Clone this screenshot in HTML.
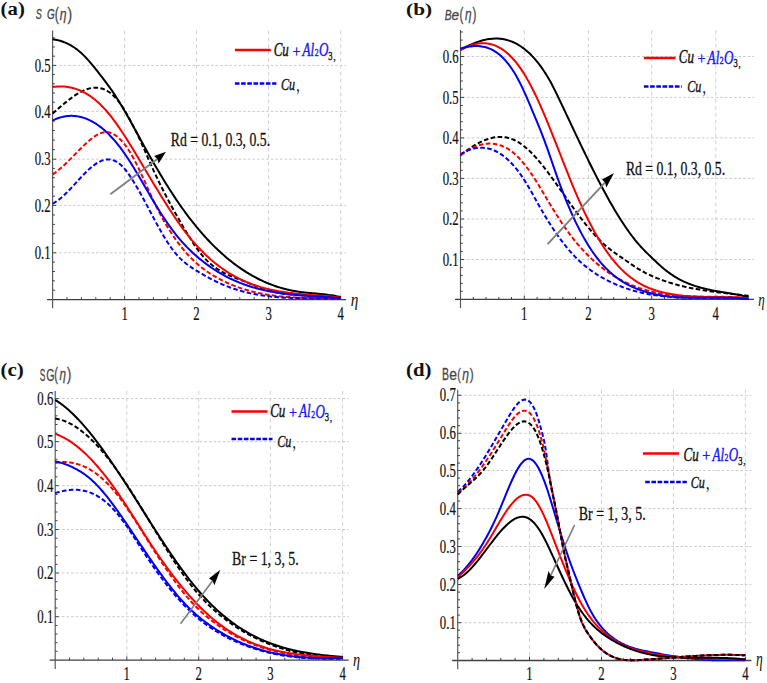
<!DOCTYPE html>
<html><head><meta charset="utf-8"><style>
html,body{margin:0;padding:0;background:#fff;overflow:hidden;}
svg{display:block;}
</style></head><body>
<svg width="767" height="683" viewBox="0 0 767 683">
<rect width="767" height="683" fill="#fff"/>
<line x1="54.6" y1="252.8" x2="346.0" y2="252.8" stroke="#cbcbcb" stroke-width="1" stroke-dasharray="2.6,2.0"/>
<line x1="54.6" y1="205.4" x2="346.0" y2="205.4" stroke="#cbcbcb" stroke-width="1" stroke-dasharray="2.6,2.0"/>
<line x1="54.6" y1="159.2" x2="346.0" y2="159.2" stroke="#cbcbcb" stroke-width="1" stroke-dasharray="2.6,2.0"/>
<line x1="54.6" y1="111.4" x2="346.0" y2="111.4" stroke="#cbcbcb" stroke-width="1" stroke-dasharray="2.6,2.0"/>
<line x1="54.6" y1="65.4" x2="346.0" y2="65.4" stroke="#cbcbcb" stroke-width="1" stroke-dasharray="2.6,2.0"/>
<line x1="124.6" y1="30.5" x2="124.6" y2="298.6" stroke="#d0d0d0" stroke-width="1" stroke-dasharray="3.7,3.2"/>
<line x1="196.5" y1="30.5" x2="196.5" y2="298.6" stroke="#d0d0d0" stroke-width="1" stroke-dasharray="3.7,3.2"/>
<line x1="268.6" y1="30.5" x2="268.6" y2="298.6" stroke="#d0d0d0" stroke-width="1" stroke-dasharray="3.7,3.2"/>
<line x1="340.7" y1="30.5" x2="340.7" y2="298.6" stroke="#d0d0d0" stroke-width="1" stroke-dasharray="3.7,3.2"/>
<line x1="47.1" y1="299.6" x2="346.0" y2="299.6" stroke="#404040" stroke-width="1.3"/>
<line x1="52.6" y1="30.5" x2="52.6" y2="308.3" stroke="#555" stroke-width="1.15"/>
<line x1="52.6" y1="290.2" x2="54.9" y2="290.2" stroke="#404040" stroke-width="1"/>
<line x1="52.6" y1="280.8" x2="54.9" y2="280.8" stroke="#404040" stroke-width="1"/>
<line x1="52.6" y1="271.5" x2="54.9" y2="271.5" stroke="#404040" stroke-width="1"/>
<line x1="52.6" y1="262.1" x2="54.9" y2="262.1" stroke="#404040" stroke-width="1"/>
<line x1="52.6" y1="252.8" x2="56.1" y2="252.8" stroke="#404040" stroke-width="1"/>
<line x1="52.6" y1="243.3" x2="54.9" y2="243.3" stroke="#404040" stroke-width="1"/>
<line x1="52.6" y1="233.8" x2="54.9" y2="233.8" stroke="#404040" stroke-width="1"/>
<line x1="52.6" y1="224.4" x2="54.9" y2="224.4" stroke="#404040" stroke-width="1"/>
<line x1="52.6" y1="214.9" x2="54.9" y2="214.9" stroke="#404040" stroke-width="1"/>
<line x1="52.6" y1="205.4" x2="56.1" y2="205.4" stroke="#404040" stroke-width="1"/>
<line x1="52.6" y1="196.2" x2="54.9" y2="196.2" stroke="#404040" stroke-width="1"/>
<line x1="52.6" y1="186.9" x2="54.9" y2="186.9" stroke="#404040" stroke-width="1"/>
<line x1="52.6" y1="177.7" x2="54.9" y2="177.7" stroke="#404040" stroke-width="1"/>
<line x1="52.6" y1="168.4" x2="54.9" y2="168.4" stroke="#404040" stroke-width="1"/>
<line x1="52.6" y1="159.2" x2="56.1" y2="159.2" stroke="#404040" stroke-width="1"/>
<line x1="52.6" y1="149.6" x2="54.9" y2="149.6" stroke="#404040" stroke-width="1"/>
<line x1="52.6" y1="140.1" x2="54.9" y2="140.1" stroke="#404040" stroke-width="1"/>
<line x1="52.6" y1="130.5" x2="54.9" y2="130.5" stroke="#404040" stroke-width="1"/>
<line x1="52.6" y1="121.0" x2="54.9" y2="121.0" stroke="#404040" stroke-width="1"/>
<line x1="52.6" y1="111.4" x2="56.1" y2="111.4" stroke="#404040" stroke-width="1"/>
<line x1="52.6" y1="102.2" x2="54.9" y2="102.2" stroke="#404040" stroke-width="1"/>
<line x1="52.6" y1="93.0" x2="54.9" y2="93.0" stroke="#404040" stroke-width="1"/>
<line x1="52.6" y1="83.8" x2="54.9" y2="83.8" stroke="#404040" stroke-width="1"/>
<line x1="52.6" y1="74.6" x2="54.9" y2="74.6" stroke="#404040" stroke-width="1"/>
<line x1="52.6" y1="65.4" x2="56.1" y2="65.4" stroke="#404040" stroke-width="1"/>
<line x1="52.6" y1="56.2" x2="54.9" y2="56.2" stroke="#404040" stroke-width="1"/>
<line x1="52.6" y1="47.0" x2="54.9" y2="47.0" stroke="#404040" stroke-width="1"/>
<line x1="52.6" y1="37.8" x2="54.9" y2="37.8" stroke="#404040" stroke-width="1"/>
<line x1="67.0" y1="299.5" x2="67.0" y2="297.2" stroke="#404040" stroke-width="1"/>
<line x1="81.4" y1="299.5" x2="81.4" y2="297.2" stroke="#404040" stroke-width="1"/>
<line x1="95.8" y1="299.5" x2="95.8" y2="297.2" stroke="#404040" stroke-width="1"/>
<line x1="110.2" y1="299.5" x2="110.2" y2="297.2" stroke="#404040" stroke-width="1"/>
<line x1="124.6" y1="299.5" x2="124.6" y2="296.0" stroke="#404040" stroke-width="1"/>
<line x1="139.0" y1="299.5" x2="139.0" y2="297.2" stroke="#404040" stroke-width="1"/>
<line x1="153.4" y1="299.5" x2="153.4" y2="297.2" stroke="#404040" stroke-width="1"/>
<line x1="167.7" y1="299.5" x2="167.7" y2="297.2" stroke="#404040" stroke-width="1"/>
<line x1="182.1" y1="299.5" x2="182.1" y2="297.2" stroke="#404040" stroke-width="1"/>
<line x1="196.5" y1="299.5" x2="196.5" y2="296.0" stroke="#404040" stroke-width="1"/>
<line x1="210.9" y1="299.5" x2="210.9" y2="297.2" stroke="#404040" stroke-width="1"/>
<line x1="225.3" y1="299.5" x2="225.3" y2="297.2" stroke="#404040" stroke-width="1"/>
<line x1="239.8" y1="299.5" x2="239.8" y2="297.2" stroke="#404040" stroke-width="1"/>
<line x1="254.2" y1="299.5" x2="254.2" y2="297.2" stroke="#404040" stroke-width="1"/>
<line x1="268.6" y1="299.5" x2="268.6" y2="296.0" stroke="#404040" stroke-width="1"/>
<line x1="283.0" y1="299.5" x2="283.0" y2="297.2" stroke="#404040" stroke-width="1"/>
<line x1="297.4" y1="299.5" x2="297.4" y2="297.2" stroke="#404040" stroke-width="1"/>
<line x1="311.9" y1="299.5" x2="311.9" y2="297.2" stroke="#404040" stroke-width="1"/>
<line x1="326.3" y1="299.5" x2="326.3" y2="297.2" stroke="#404040" stroke-width="1"/>
<line x1="340.7" y1="299.5" x2="340.7" y2="296.0" stroke="#404040" stroke-width="1"/>
<text transform="translate(50.70,258.96) scale(0.680,1)" style="font-family:'Liberation Serif',serif;font-size:18.80px" fill="#111" stroke="#111" stroke-width="0.2" text-anchor="end">0.1</text>
<text transform="translate(50.70,211.56) scale(0.680,1)" style="font-family:'Liberation Serif',serif;font-size:18.80px" fill="#111" stroke="#111" stroke-width="0.2" text-anchor="end">0.2</text>
<text transform="translate(50.70,165.36) scale(0.680,1)" style="font-family:'Liberation Serif',serif;font-size:18.80px" fill="#111" stroke="#111" stroke-width="0.2" text-anchor="end">0.3</text>
<text transform="translate(50.70,117.56) scale(0.680,1)" style="font-family:'Liberation Serif',serif;font-size:18.80px" fill="#111" stroke="#111" stroke-width="0.2" text-anchor="end">0.4</text>
<text transform="translate(50.70,71.56) scale(0.680,1)" style="font-family:'Liberation Serif',serif;font-size:18.80px" fill="#111" stroke="#111" stroke-width="0.2" text-anchor="end">0.5</text>
<text transform="translate(124.60,319.76) scale(0.680,1)" style="font-family:'Liberation Serif',serif;font-size:18.80px" fill="#111" stroke="#111" stroke-width="0.2" text-anchor="middle">1</text>
<text transform="translate(196.50,319.76) scale(0.680,1)" style="font-family:'Liberation Serif',serif;font-size:18.80px" fill="#111" stroke="#111" stroke-width="0.2" text-anchor="middle">2</text>
<text transform="translate(268.60,319.76) scale(0.680,1)" style="font-family:'Liberation Serif',serif;font-size:18.80px" fill="#111" stroke="#111" stroke-width="0.2" text-anchor="middle">3</text>
<text transform="translate(340.70,319.76) scale(0.680,1)" style="font-family:'Liberation Serif',serif;font-size:18.80px" fill="#111" stroke="#111" stroke-width="0.2" text-anchor="middle">4</text>
<text transform="translate(350.77,305.79) scale(0.779,1)" style="font-family:'Liberation Serif',serif;font-style:italic;font-size:19.56px" fill="#111">η</text>
<path d="M52.60 113.52 L54.09 112.24 L55.58 110.96 L57.08 109.67 L58.57 108.38 L60.06 107.10 L61.55 105.83 L63.05 104.57 L64.54 103.33 L66.03 102.11 L67.52 100.91 L69.01 99.74 L70.51 98.61 L72.00 97.50 L73.49 96.44 L74.98 95.42 L76.48 94.44 L77.97 93.52 L79.46 92.65 L80.95 91.84 L82.44 91.08 L83.94 90.40 L85.43 89.78 L86.92 89.23 L88.41 88.76 L89.91 88.37 L91.40 88.07 L92.89 87.85 L94.38 87.72 L95.87 87.68 L97.37 87.75 L98.86 87.91 L100.35 88.19 L101.84 88.57 L103.34 89.06 L104.83 89.68 L106.32 90.41 L107.81 91.26 L109.30 92.24 L110.80 93.36 L112.29 94.60 L113.78 95.98 L115.27 97.50 L116.77 99.17 L118.26 100.98 L119.75 102.94 L121.24 105.06 L122.73 107.32 L124.23 109.71 L125.72 112.21 L127.21 114.81 L128.70 117.49 L130.20 120.23 L131.69 123.03 L133.18 125.89 L134.67 128.80 L136.16 131.79 L137.66 134.85 L139.15 137.98 L140.64 141.19 L142.13 144.49 L143.63 147.87 L145.12 151.33 L146.61 154.81 L148.10 158.27 L149.59 161.69 L151.09 165.04 L152.58 168.34 L154.07 171.59 L155.56 174.78 L157.06 177.93 L158.55 181.03 L160.04 184.08 L161.53 187.09 L163.02 190.05 L164.52 192.98 L166.01 195.86 L167.50 198.70 L168.99 201.51 L170.49 204.29 L171.98 207.03 L173.47 209.73 L174.96 212.41 L176.45 215.06 L177.95 217.69 L179.44 220.28 L180.93 222.86 L182.42 225.41 L183.92 227.95 L185.41 230.46 L186.90 232.95 L188.39 235.42 L189.88 237.85 L191.38 240.23 L192.87 242.56 L194.36 244.83 L195.85 247.03 L197.35 249.15 L198.84 251.19 L200.33 253.12 L201.82 254.96 L203.32 256.70 L204.81 258.35 L206.30 259.91 L207.79 261.38 L209.28 262.77 L210.78 264.09 L212.27 265.33 L213.76 266.49 L215.25 267.60 L216.75 268.64 L218.24 269.62 L219.73 270.54 L221.22 271.42 L222.71 272.25 L224.21 273.03 L225.70 273.77 L227.19 274.48 L228.68 275.16 L230.18 275.81 L231.67 276.44 L233.16 277.04 L234.65 277.63 L236.14 278.21 L237.64 278.77 L239.13 279.34 L240.62 279.90 L242.11 280.46 L243.61 281.03 L245.10 281.61 L246.59 282.21 L248.08 282.80 L249.57 283.41 L251.07 284.01 L252.56 284.62 L254.05 285.22 L255.54 285.82 L257.04 286.41 L258.53 287.00 L260.02 287.57 L261.51 288.13 L263.00 288.67 L264.50 289.19 L265.99 289.69 L267.48 290.17 L268.97 290.62 L270.47 291.04 L271.96 291.44 L273.45 291.81 L274.94 292.15 L276.43 292.47 L277.93 292.77 L279.42 293.05 L280.91 293.31 L282.40 293.54 L283.90 293.76 L285.39 293.96 L286.88 294.15 L288.37 294.31 L289.86 294.47 L291.36 294.60 L292.85 294.73 L294.34 294.84 L295.83 294.95 L297.33 295.04 L298.82 295.13 L300.31 295.20 L301.80 295.27 L303.29 295.34 L304.79 295.40 L306.28 295.46 L307.77 295.51 L309.26 295.56 L310.76 295.61 L312.25 295.66 L313.74 295.71 L315.23 295.77 L316.72 295.83 L318.22 295.89 L319.71 295.95 L321.20 296.03 L322.69 296.11 L324.19 296.20 L325.68 296.29 L327.17 296.40 L328.66 296.52 L330.15 296.65 L331.65 296.80 L333.14 296.96 L334.63 297.13 L336.12 297.32 L337.62 297.53 L339.11 297.76 L340.60 298.00" fill="none" stroke="#000" stroke-width="2.0" stroke-dasharray="4.6,2.4"/>
<path d="M52.60 174.42 L54.09 173.42 L55.58 172.36 L57.08 171.23 L58.57 170.03 L60.06 168.78 L61.55 167.48 L63.05 166.14 L64.54 164.75 L66.03 163.33 L67.52 161.88 L69.01 160.40 L70.51 158.90 L72.00 157.39 L73.49 155.87 L74.98 154.35 L76.48 152.82 L77.97 151.30 L79.46 149.80 L80.95 148.31 L82.44 146.84 L83.94 145.40 L85.43 143.99 L86.92 142.61 L88.41 141.28 L89.91 140.00 L91.40 138.78 L92.89 137.64 L94.38 136.57 L95.87 135.59 L97.37 134.72 L98.86 133.95 L100.35 133.31 L101.84 132.80 L103.34 132.43 L104.83 132.21 L106.32 132.15 L107.81 132.26 L109.30 132.53 L110.80 132.97 L112.29 133.57 L113.78 134.33 L115.27 135.24 L116.77 136.31 L118.26 137.54 L119.75 138.91 L121.24 140.43 L122.73 142.10 L124.23 143.92 L125.72 145.87 L127.21 147.97 L128.70 150.20 L130.20 152.58 L131.69 155.09 L133.18 157.73 L134.67 160.50 L136.16 163.38 L137.66 166.38 L139.15 169.46 L140.64 172.62 L142.13 175.84 L143.63 179.11 L145.12 182.41 L146.61 185.73 L148.10 189.04 L149.59 192.35 L151.09 195.62 L152.58 198.85 L154.07 202.01 L155.56 205.11 L157.06 208.11 L158.55 211.04 L160.04 213.88 L161.53 216.65 L163.02 219.33 L164.52 221.95 L166.01 224.50 L167.50 226.97 L168.99 229.38 L170.49 231.73 L171.98 234.02 L173.47 236.25 L174.96 238.41 L176.45 240.52 L177.95 242.56 L179.44 244.55 L180.93 246.48 L182.42 248.35 L183.92 250.15 L185.41 251.91 L186.90 253.60 L188.39 255.23 L189.88 256.82 L191.38 258.34 L192.87 259.82 L194.36 261.24 L195.85 262.62 L197.35 263.95 L198.84 265.23 L200.33 266.47 L201.82 267.66 L203.32 268.81 L204.81 269.93 L206.30 271.00 L207.79 272.04 L209.28 273.04 L210.78 274.00 L212.27 274.94 L213.76 275.84 L215.25 276.72 L216.75 277.56 L218.24 278.38 L219.73 279.17 L221.22 279.94 L222.71 280.69 L224.21 281.42 L225.70 282.12 L227.19 282.81 L228.68 283.47 L230.18 284.12 L231.67 284.74 L233.16 285.35 L234.65 285.94 L236.14 286.50 L237.64 287.05 L239.13 287.59 L240.62 288.10 L242.11 288.60 L243.61 289.08 L245.10 289.54 L246.59 289.98 L248.08 290.41 L249.57 290.83 L251.07 291.23 L252.56 291.61 L254.05 291.98 L255.54 292.33 L257.04 292.67 L258.53 292.99 L260.02 293.31 L261.51 293.60 L263.00 293.89 L264.50 294.16 L265.99 294.42 L267.48 294.67 L268.97 294.90 L270.47 295.12 L271.96 295.34 L273.45 295.54 L274.94 295.73 L276.43 295.91 L277.93 296.08 L279.42 296.24 L280.91 296.39 L282.40 296.53 L283.90 296.67 L285.39 296.79 L286.88 296.91 L288.37 297.02 L289.86 297.12 L291.36 297.21 L292.85 297.30 L294.34 297.38 L295.83 297.46 L297.33 297.53 L298.82 297.59 L300.31 297.65 L301.80 297.70 L303.29 297.75 L304.79 297.79 L306.28 297.83 L307.77 297.86 L309.26 297.90 L310.76 297.93 L312.25 297.95 L313.74 297.97 L315.23 298.00 L316.72 298.01 L318.22 298.03 L319.71 298.05 L321.20 298.06 L322.69 298.08 L324.19 298.09 L325.68 298.11 L327.17 298.12 L328.66 298.14 L330.15 298.15 L331.65 298.17 L333.14 298.19 L334.63 298.21 L336.12 298.23 L337.62 298.25 L339.11 298.28 L340.60 298.31" fill="none" stroke="#f70000" stroke-width="2.0" stroke-dasharray="4.6,2.4"/>
<path d="M52.60 203.57 L54.09 202.79 L55.58 201.90 L57.08 200.92 L58.57 199.84 L60.06 198.67 L61.55 197.43 L63.05 196.11 L64.54 194.73 L66.03 193.30 L67.52 191.81 L69.01 190.28 L70.51 188.72 L72.00 187.13 L73.49 185.52 L74.98 183.89 L76.48 182.26 L77.97 180.63 L79.46 179.01 L80.95 177.40 L82.44 175.82 L83.94 174.27 L85.43 172.76 L86.92 171.29 L88.41 169.87 L89.91 168.51 L91.40 167.22 L92.89 166.01 L94.38 164.87 L95.87 163.82 L97.37 162.87 L98.86 162.02 L100.35 161.29 L101.84 160.66 L103.34 160.16 L104.83 159.79 L106.32 159.55 L107.81 159.44 L109.30 159.47 L110.80 159.65 L112.29 159.97 L113.78 160.45 L115.27 161.08 L116.77 161.88 L118.26 162.85 L119.75 163.98 L121.24 165.29 L122.73 166.78 L124.23 168.42 L125.72 170.22 L127.21 172.15 L128.70 174.21 L130.20 176.38 L131.69 178.65 L133.18 181.02 L134.67 183.46 L136.16 185.97 L137.66 188.54 L139.15 191.17 L140.64 193.84 L142.13 196.55 L143.63 199.29 L145.12 202.06 L146.61 204.85 L148.10 207.65 L149.59 210.46 L151.09 213.27 L152.58 216.07 L154.07 218.85 L155.56 221.62 L157.06 224.36 L158.55 227.06 L160.04 229.72 L161.53 232.34 L163.02 234.90 L164.52 237.40 L166.01 239.83 L167.50 242.19 L168.99 244.47 L170.49 246.66 L171.98 248.76 L173.47 250.75 L174.96 252.64 L176.45 254.41 L177.95 256.08 L179.44 257.65 L180.93 259.12 L182.42 260.51 L183.92 261.81 L185.41 263.05 L186.90 264.22 L188.39 265.33 L189.88 266.39 L191.38 267.41 L192.87 268.40 L194.36 269.35 L195.85 270.28 L197.35 271.19 L198.84 272.10 L200.33 272.99 L201.82 273.87 L203.32 274.73 L204.81 275.58 L206.30 276.42 L207.79 277.24 L209.28 278.05 L210.78 278.84 L212.27 279.62 L213.76 280.38 L215.25 281.12 L216.75 281.84 L218.24 282.54 L219.73 283.23 L221.22 283.90 L222.71 284.55 L224.21 285.17 L225.70 285.78 L227.19 286.37 L228.68 286.94 L230.18 287.49 L231.67 288.02 L233.16 288.54 L234.65 289.04 L236.14 289.52 L237.64 289.98 L239.13 290.43 L240.62 290.86 L242.11 291.27 L243.61 291.67 L245.10 292.05 L246.59 292.42 L248.08 292.77 L249.57 293.11 L251.07 293.43 L252.56 293.74 L254.05 294.04 L255.54 294.32 L257.04 294.59 L258.53 294.84 L260.02 295.09 L261.51 295.32 L263.00 295.54 L264.50 295.75 L265.99 295.95 L267.48 296.14 L268.97 296.31 L270.47 296.48 L271.96 296.64 L273.45 296.78 L274.94 296.92 L276.43 297.05 L277.93 297.17 L279.42 297.28 L280.91 297.38 L282.40 297.48 L283.90 297.57 L285.39 297.65 L286.88 297.72 L288.37 297.79 L289.86 297.85 L291.36 297.91 L292.85 297.96 L294.34 298.00 L295.83 298.04 L297.33 298.08 L298.82 298.11 L300.31 298.14 L301.80 298.16 L303.29 298.18 L304.79 298.20 L306.28 298.21 L307.77 298.23 L309.26 298.23 L310.76 298.24 L312.25 298.25 L313.74 298.25 L315.23 298.26 L316.72 298.26 L318.22 298.27 L319.71 298.27 L321.20 298.27 L322.69 298.28 L324.19 298.28 L325.68 298.29 L327.17 298.30 L328.66 298.31 L330.15 298.32 L331.65 298.33 L333.14 298.35 L334.63 298.37 L336.12 298.40 L337.62 298.42 L339.11 298.46 L340.60 298.49" fill="none" stroke="#0000f5" stroke-width="2.0" stroke-dasharray="4.6,2.4"/>
<path d="M52.60 39.19 L54.09 39.41 L55.58 39.68 L57.08 39.99 L58.57 40.36 L60.06 40.76 L61.55 41.23 L63.05 41.74 L64.54 42.31 L66.03 42.93 L67.52 43.62 L69.01 44.37 L70.51 45.17 L72.00 46.05 L73.49 46.99 L74.98 48.00 L76.48 49.08 L77.97 50.23 L79.46 51.46 L80.95 52.76 L82.44 54.14 L83.94 55.60 L85.43 57.12 L86.92 58.71 L88.41 60.36 L89.91 62.06 L91.40 63.81 L92.89 65.60 L94.38 67.43 L95.87 69.29 L97.37 71.19 L98.86 73.10 L100.35 75.03 L101.84 76.97 L103.34 78.91 L104.83 80.87 L106.32 82.85 L107.81 84.86 L109.30 86.91 L110.80 89.00 L112.29 91.14 L113.78 93.34 L115.27 95.61 L116.77 97.93 L118.26 100.30 L119.75 102.73 L121.24 105.20 L122.73 107.71 L124.23 110.26 L125.72 112.84 L127.21 115.46 L128.70 118.10 L130.20 120.76 L131.69 123.45 L133.18 126.15 L134.67 128.86 L136.16 131.59 L137.66 134.31 L139.15 137.04 L140.64 139.77 L142.13 142.48 L143.63 145.19 L145.12 147.89 L146.61 150.57 L148.10 153.23 L149.59 155.88 L151.09 158.51 L152.58 161.12 L154.07 163.71 L155.56 166.28 L157.06 168.83 L158.55 171.36 L160.04 173.87 L161.53 176.35 L163.02 178.82 L164.52 181.26 L166.01 183.67 L167.50 186.06 L168.99 188.43 L170.49 190.77 L171.98 193.08 L173.47 195.37 L174.96 197.62 L176.45 199.85 L177.95 202.05 L179.44 204.22 L180.93 206.36 L182.42 208.46 L183.92 210.54 L185.41 212.59 L186.90 214.60 L188.39 216.59 L189.88 218.54 L191.38 220.47 L192.87 222.36 L194.36 224.23 L195.85 226.07 L197.35 227.87 L198.84 229.65 L200.33 231.40 L201.82 233.12 L203.32 234.82 L204.81 236.48 L206.30 238.12 L207.79 239.72 L209.28 241.30 L210.78 242.86 L212.27 244.38 L213.76 245.88 L215.25 247.35 L216.75 248.80 L218.24 250.21 L219.73 251.60 L221.22 252.97 L222.71 254.31 L224.21 255.62 L225.70 256.91 L227.19 258.17 L228.68 259.40 L230.18 260.61 L231.67 261.80 L233.16 262.96 L234.65 264.09 L236.14 265.20 L237.64 266.29 L239.13 267.35 L240.62 268.39 L242.11 269.40 L243.61 270.39 L245.10 271.35 L246.59 272.30 L248.08 273.21 L249.57 274.11 L251.07 274.98 L252.56 275.83 L254.05 276.66 L255.54 277.46 L257.04 278.24 L258.53 279.00 L260.02 279.74 L261.51 280.46 L263.00 281.15 L264.50 281.82 L265.99 282.48 L267.48 283.11 L268.97 283.71 L270.47 284.30 L271.96 284.87 L273.45 285.42 L274.94 285.94 L276.43 286.45 L277.93 286.93 L279.42 287.40 L280.91 287.85 L282.40 288.27 L283.90 288.68 L285.39 289.07 L286.88 289.44 L288.37 289.79 L289.86 290.12 L291.36 290.43 L292.85 290.73 L294.34 291.00 L295.83 291.26 L297.33 291.50 L298.82 291.73 L300.31 291.93 L301.80 292.13 L303.29 292.31 L304.79 292.48 L306.28 292.64 L307.77 292.79 L309.26 292.94 L310.76 293.08 L312.25 293.22 L313.74 293.35 L315.23 293.49 L316.72 293.62 L318.22 293.76 L319.71 293.90 L321.20 294.05 L322.69 294.20 L324.19 294.36 L325.68 294.53 L327.17 294.72 L328.66 294.91 L330.15 295.12 L331.65 295.34 L333.14 295.58 L334.63 295.84 L336.12 296.12 L337.62 296.42 L339.11 296.74 L340.60 297.09" fill="none" stroke="#000" stroke-width="2.0"/>
<path d="M52.60 86.99 L54.09 86.79 L55.58 86.64 L57.08 86.52 L58.57 86.45 L60.06 86.42 L61.55 86.43 L63.05 86.49 L64.54 86.59 L66.03 86.74 L67.52 86.93 L69.01 87.17 L70.51 87.46 L72.00 87.80 L73.49 88.19 L74.98 88.63 L76.48 89.12 L77.97 89.66 L79.46 90.26 L80.95 90.90 L82.44 91.61 L83.94 92.36 L85.43 93.17 L86.92 94.04 L88.41 94.97 L89.91 95.95 L91.40 96.99 L92.89 98.09 L94.38 99.25 L95.87 100.47 L97.37 101.76 L98.86 103.10 L100.35 104.51 L101.84 105.98 L103.34 107.52 L104.83 109.12 L106.32 110.79 L107.81 112.52 L109.30 114.32 L110.80 116.18 L112.29 118.10 L113.78 120.07 L115.27 122.10 L116.77 124.18 L118.26 126.31 L119.75 128.48 L121.24 130.69 L122.73 132.94 L124.23 135.23 L125.72 137.55 L127.21 139.90 L128.70 142.27 L130.20 144.67 L131.69 147.09 L133.18 149.53 L134.67 151.99 L136.16 154.45 L137.66 156.93 L139.15 159.42 L140.64 161.91 L142.13 164.41 L143.63 166.91 L145.12 169.41 L146.61 171.92 L148.10 174.42 L149.59 176.92 L151.09 179.42 L152.58 181.91 L154.07 184.39 L155.56 186.87 L157.06 189.33 L158.55 191.79 L160.04 194.23 L161.53 196.65 L163.02 199.06 L164.52 201.45 L166.01 203.82 L167.50 206.16 L168.99 208.49 L170.49 210.79 L171.98 213.06 L173.47 215.31 L174.96 217.52 L176.45 219.71 L177.95 221.86 L179.44 223.98 L180.93 226.06 L182.42 228.10 L183.92 230.11 L185.41 232.08 L186.90 234.00 L188.39 235.88 L189.88 237.72 L191.38 239.52 L192.87 241.29 L194.36 243.01 L195.85 244.69 L197.35 246.34 L198.84 247.94 L200.33 249.51 L201.82 251.05 L203.32 252.54 L204.81 254.00 L206.30 255.43 L207.79 256.82 L209.28 258.17 L210.78 259.49 L212.27 260.78 L213.76 262.03 L215.25 263.25 L216.75 264.44 L218.24 265.59 L219.73 266.72 L221.22 267.81 L222.71 268.87 L224.21 269.90 L225.70 270.91 L227.19 271.88 L228.68 272.82 L230.18 273.74 L231.67 274.63 L233.16 275.49 L234.65 276.33 L236.14 277.13 L237.64 277.92 L239.13 278.67 L240.62 279.41 L242.11 280.12 L243.61 280.80 L245.10 281.46 L246.59 282.10 L248.08 282.72 L249.57 283.31 L251.07 283.88 L252.56 284.44 L254.05 284.97 L255.54 285.48 L257.04 285.97 L258.53 286.45 L260.02 286.90 L261.51 287.34 L263.00 287.76 L264.50 288.16 L265.99 288.55 L267.48 288.92 L268.97 289.27 L270.47 289.61 L271.96 289.94 L273.45 290.25 L274.94 290.55 L276.43 290.83 L277.93 291.11 L279.42 291.37 L280.91 291.61 L282.40 291.85 L283.90 292.08 L285.39 292.30 L286.88 292.50 L288.37 292.70 L289.86 292.89 L291.36 293.07 L292.85 293.24 L294.34 293.41 L295.83 293.57 L297.33 293.72 L298.82 293.87 L300.31 294.01 L301.80 294.15 L303.29 294.28 L304.79 294.41 L306.28 294.54 L307.77 294.66 L309.26 294.78 L310.76 294.90 L312.25 295.02 L313.74 295.14 L315.23 295.26 L316.72 295.37 L318.22 295.49 L319.71 295.61 L321.20 295.73 L322.69 295.85 L324.19 295.98 L325.68 296.10 L327.17 296.23 L328.66 296.37 L330.15 296.51 L331.65 296.65 L333.14 296.81 L334.63 296.96 L336.12 297.12 L337.62 297.29 L339.11 297.47 L340.60 297.66" fill="none" stroke="#f70000" stroke-width="2.0"/>
<path d="M52.60 120.51 L54.09 119.80 L55.58 119.15 L57.08 118.56 L58.57 118.02 L60.06 117.55 L61.55 117.13 L63.05 116.77 L64.54 116.47 L66.03 116.22 L67.52 116.04 L69.01 115.91 L70.51 115.84 L72.00 115.83 L73.49 115.88 L74.98 115.99 L76.48 116.15 L77.97 116.38 L79.46 116.66 L80.95 117.01 L82.44 117.41 L83.94 117.87 L85.43 118.39 L86.92 118.97 L88.41 119.61 L89.91 120.31 L91.40 121.07 L92.89 121.89 L94.38 122.77 L95.87 123.71 L97.37 124.71 L98.86 125.77 L100.35 126.89 L101.84 128.07 L103.34 129.31 L104.83 130.61 L106.32 131.98 L107.81 133.40 L109.30 134.88 L110.80 136.43 L112.29 138.03 L113.78 139.70 L115.27 141.42 L116.77 143.21 L118.26 145.06 L119.75 146.97 L121.24 148.94 L122.73 150.98 L124.23 153.07 L125.72 155.23 L127.21 157.45 L128.70 159.71 L130.20 162.03 L131.69 164.40 L133.18 166.80 L134.67 169.24 L136.16 171.71 L137.66 174.21 L139.15 176.73 L140.64 179.27 L142.13 181.82 L143.63 184.39 L145.12 186.95 L146.61 189.52 L148.10 192.08 L149.59 194.64 L151.09 197.18 L152.58 199.70 L154.07 202.20 L155.56 204.68 L157.06 207.12 L158.55 209.53 L160.04 211.91 L161.53 214.25 L163.02 216.55 L164.52 218.81 L166.01 221.03 L167.50 223.21 L168.99 225.35 L170.49 227.43 L171.98 229.47 L173.47 231.46 L174.96 233.40 L176.45 235.28 L177.95 237.11 L179.44 238.89 L180.93 240.63 L182.42 242.31 L183.92 243.95 L185.41 245.54 L186.90 247.09 L188.39 248.60 L189.88 250.07 L191.38 251.51 L192.87 252.90 L194.36 254.26 L195.85 255.58 L197.35 256.88 L198.84 258.14 L200.33 259.37 L201.82 260.57 L203.32 261.75 L204.81 262.89 L206.30 264.02 L207.79 265.11 L209.28 266.18 L210.78 267.22 L212.27 268.23 L213.76 269.22 L215.25 270.19 L216.75 271.13 L218.24 272.04 L219.73 272.94 L221.22 273.80 L222.71 274.65 L224.21 275.47 L225.70 276.27 L227.19 277.05 L228.68 277.80 L230.18 278.54 L231.67 279.25 L233.16 279.94 L234.65 280.61 L236.14 281.27 L237.64 281.90 L239.13 282.51 L240.62 283.10 L242.11 283.68 L243.61 284.23 L245.10 284.77 L246.59 285.29 L248.08 285.80 L249.57 286.28 L251.07 286.75 L252.56 287.21 L254.05 287.65 L255.54 288.07 L257.04 288.48 L258.53 288.87 L260.02 289.25 L261.51 289.61 L263.00 289.96 L264.50 290.30 L265.99 290.63 L267.48 290.94 L268.97 291.24 L270.47 291.52 L271.96 291.80 L273.45 292.07 L274.94 292.32 L276.43 292.56 L277.93 292.80 L279.42 293.02 L280.91 293.23 L282.40 293.44 L283.90 293.64 L285.39 293.82 L286.88 294.00 L288.37 294.18 L289.86 294.34 L291.36 294.50 L292.85 294.65 L294.34 294.80 L295.83 294.94 L297.33 295.07 L298.82 295.20 L300.31 295.33 L301.80 295.45 L303.29 295.56 L304.79 295.67 L306.28 295.78 L307.77 295.89 L309.26 295.99 L310.76 296.09 L312.25 296.19 L313.74 296.29 L315.23 296.38 L316.72 296.48 L318.22 296.57 L319.71 296.67 L321.20 296.76 L322.69 296.86 L324.19 296.95 L325.68 297.05 L327.17 297.15 L328.66 297.25 L330.15 297.35 L331.65 297.46 L333.14 297.57 L334.63 297.68 L336.12 297.79 L337.62 297.91 L339.11 298.04 L340.60 298.17" fill="none" stroke="#0000f5" stroke-width="2.0"/>
<line x1="462.5" y1="259.5" x2="754.0" y2="259.5" stroke="#cbcbcb" stroke-width="1" stroke-dasharray="2.6,2.0"/>
<line x1="462.5" y1="219.0" x2="754.0" y2="219.0" stroke="#cbcbcb" stroke-width="1" stroke-dasharray="2.6,2.0"/>
<line x1="462.5" y1="178.4" x2="754.0" y2="178.4" stroke="#cbcbcb" stroke-width="1" stroke-dasharray="2.6,2.0"/>
<line x1="462.5" y1="137.9" x2="754.0" y2="137.9" stroke="#cbcbcb" stroke-width="1" stroke-dasharray="2.6,2.0"/>
<line x1="462.5" y1="97.4" x2="754.0" y2="97.4" stroke="#cbcbcb" stroke-width="1" stroke-dasharray="2.6,2.0"/>
<line x1="462.5" y1="56.5" x2="754.0" y2="56.5" stroke="#cbcbcb" stroke-width="1" stroke-dasharray="2.6,2.0"/>
<line x1="524.3" y1="30.1" x2="524.3" y2="298.3" stroke="#d0d0d0" stroke-width="1" stroke-dasharray="3.7,3.2"/>
<line x1="588.4" y1="30.1" x2="588.4" y2="298.3" stroke="#d0d0d0" stroke-width="1" stroke-dasharray="3.7,3.2"/>
<line x1="651.7" y1="30.1" x2="651.7" y2="298.3" stroke="#d0d0d0" stroke-width="1" stroke-dasharray="3.7,3.2"/>
<line x1="715.8" y1="30.1" x2="715.8" y2="298.3" stroke="#d0d0d0" stroke-width="1" stroke-dasharray="3.7,3.2"/>
<line x1="455.0" y1="299.3" x2="754.0" y2="299.3" stroke="#404040" stroke-width="1.3"/>
<line x1="460.5" y1="30.1" x2="460.5" y2="308.0" stroke="#555" stroke-width="1.15"/>
<line x1="460.5" y1="291.3" x2="462.8" y2="291.3" stroke="#404040" stroke-width="1"/>
<line x1="460.5" y1="283.4" x2="462.8" y2="283.4" stroke="#404040" stroke-width="1"/>
<line x1="460.5" y1="275.4" x2="462.8" y2="275.4" stroke="#404040" stroke-width="1"/>
<line x1="460.5" y1="267.5" x2="462.8" y2="267.5" stroke="#404040" stroke-width="1"/>
<line x1="460.5" y1="259.5" x2="464.0" y2="259.5" stroke="#404040" stroke-width="1"/>
<line x1="460.5" y1="251.4" x2="462.8" y2="251.4" stroke="#404040" stroke-width="1"/>
<line x1="460.5" y1="243.3" x2="462.8" y2="243.3" stroke="#404040" stroke-width="1"/>
<line x1="460.5" y1="235.2" x2="462.8" y2="235.2" stroke="#404040" stroke-width="1"/>
<line x1="460.5" y1="227.1" x2="462.8" y2="227.1" stroke="#404040" stroke-width="1"/>
<line x1="460.5" y1="219.0" x2="464.0" y2="219.0" stroke="#404040" stroke-width="1"/>
<line x1="460.5" y1="210.9" x2="462.8" y2="210.9" stroke="#404040" stroke-width="1"/>
<line x1="460.5" y1="202.8" x2="462.8" y2="202.8" stroke="#404040" stroke-width="1"/>
<line x1="460.5" y1="194.6" x2="462.8" y2="194.6" stroke="#404040" stroke-width="1"/>
<line x1="460.5" y1="186.5" x2="462.8" y2="186.5" stroke="#404040" stroke-width="1"/>
<line x1="460.5" y1="178.4" x2="464.0" y2="178.4" stroke="#404040" stroke-width="1"/>
<line x1="460.5" y1="170.3" x2="462.8" y2="170.3" stroke="#404040" stroke-width="1"/>
<line x1="460.5" y1="162.2" x2="462.8" y2="162.2" stroke="#404040" stroke-width="1"/>
<line x1="460.5" y1="154.1" x2="462.8" y2="154.1" stroke="#404040" stroke-width="1"/>
<line x1="460.5" y1="146.0" x2="462.8" y2="146.0" stroke="#404040" stroke-width="1"/>
<line x1="460.5" y1="137.9" x2="464.0" y2="137.9" stroke="#404040" stroke-width="1"/>
<line x1="460.5" y1="129.8" x2="462.8" y2="129.8" stroke="#404040" stroke-width="1"/>
<line x1="460.5" y1="121.7" x2="462.8" y2="121.7" stroke="#404040" stroke-width="1"/>
<line x1="460.5" y1="113.6" x2="462.8" y2="113.6" stroke="#404040" stroke-width="1"/>
<line x1="460.5" y1="105.5" x2="462.8" y2="105.5" stroke="#404040" stroke-width="1"/>
<line x1="460.5" y1="97.4" x2="464.0" y2="97.4" stroke="#404040" stroke-width="1"/>
<line x1="460.5" y1="89.2" x2="462.8" y2="89.2" stroke="#404040" stroke-width="1"/>
<line x1="460.5" y1="81.0" x2="462.8" y2="81.0" stroke="#404040" stroke-width="1"/>
<line x1="460.5" y1="72.9" x2="462.8" y2="72.9" stroke="#404040" stroke-width="1"/>
<line x1="460.5" y1="64.7" x2="462.8" y2="64.7" stroke="#404040" stroke-width="1"/>
<line x1="460.5" y1="56.5" x2="464.0" y2="56.5" stroke="#404040" stroke-width="1"/>
<line x1="460.5" y1="48.3" x2="462.8" y2="48.3" stroke="#404040" stroke-width="1"/>
<line x1="460.5" y1="40.1" x2="462.8" y2="40.1" stroke="#404040" stroke-width="1"/>
<line x1="460.5" y1="32.0" x2="462.8" y2="32.0" stroke="#404040" stroke-width="1"/>
<line x1="473.3" y1="299.3" x2="473.3" y2="297.0" stroke="#404040" stroke-width="1"/>
<line x1="486.0" y1="299.3" x2="486.0" y2="297.0" stroke="#404040" stroke-width="1"/>
<line x1="498.8" y1="299.3" x2="498.8" y2="297.0" stroke="#404040" stroke-width="1"/>
<line x1="511.5" y1="299.3" x2="511.5" y2="297.0" stroke="#404040" stroke-width="1"/>
<line x1="524.3" y1="299.3" x2="524.3" y2="295.8" stroke="#404040" stroke-width="1"/>
<line x1="537.1" y1="299.3" x2="537.1" y2="297.0" stroke="#404040" stroke-width="1"/>
<line x1="549.9" y1="299.3" x2="549.9" y2="297.0" stroke="#404040" stroke-width="1"/>
<line x1="562.8" y1="299.3" x2="562.8" y2="297.0" stroke="#404040" stroke-width="1"/>
<line x1="575.6" y1="299.3" x2="575.6" y2="297.0" stroke="#404040" stroke-width="1"/>
<line x1="588.4" y1="299.3" x2="588.4" y2="295.8" stroke="#404040" stroke-width="1"/>
<line x1="601.1" y1="299.3" x2="601.1" y2="297.0" stroke="#404040" stroke-width="1"/>
<line x1="613.7" y1="299.3" x2="613.7" y2="297.0" stroke="#404040" stroke-width="1"/>
<line x1="626.4" y1="299.3" x2="626.4" y2="297.0" stroke="#404040" stroke-width="1"/>
<line x1="639.0" y1="299.3" x2="639.0" y2="297.0" stroke="#404040" stroke-width="1"/>
<line x1="651.7" y1="299.3" x2="651.7" y2="295.8" stroke="#404040" stroke-width="1"/>
<line x1="664.5" y1="299.3" x2="664.5" y2="297.0" stroke="#404040" stroke-width="1"/>
<line x1="677.3" y1="299.3" x2="677.3" y2="297.0" stroke="#404040" stroke-width="1"/>
<line x1="690.2" y1="299.3" x2="690.2" y2="297.0" stroke="#404040" stroke-width="1"/>
<line x1="703.0" y1="299.3" x2="703.0" y2="297.0" stroke="#404040" stroke-width="1"/>
<line x1="715.8" y1="299.3" x2="715.8" y2="295.8" stroke="#404040" stroke-width="1"/>
<line x1="728.6" y1="299.3" x2="728.6" y2="297.0" stroke="#404040" stroke-width="1"/>
<line x1="741.4" y1="299.3" x2="741.4" y2="297.0" stroke="#404040" stroke-width="1"/>
<text transform="translate(458.60,265.66) scale(0.680,1)" style="font-family:'Liberation Serif',serif;font-size:18.80px" fill="#111" stroke="#111" stroke-width="0.2" text-anchor="end">0.1</text>
<text transform="translate(458.60,225.16) scale(0.680,1)" style="font-family:'Liberation Serif',serif;font-size:18.80px" fill="#111" stroke="#111" stroke-width="0.2" text-anchor="end">0.2</text>
<text transform="translate(458.60,184.56) scale(0.680,1)" style="font-family:'Liberation Serif',serif;font-size:18.80px" fill="#111" stroke="#111" stroke-width="0.2" text-anchor="end">0.3</text>
<text transform="translate(458.60,144.06) scale(0.680,1)" style="font-family:'Liberation Serif',serif;font-size:18.80px" fill="#111" stroke="#111" stroke-width="0.2" text-anchor="end">0.4</text>
<text transform="translate(458.60,103.56) scale(0.680,1)" style="font-family:'Liberation Serif',serif;font-size:18.80px" fill="#111" stroke="#111" stroke-width="0.2" text-anchor="end">0.5</text>
<text transform="translate(458.60,62.66) scale(0.680,1)" style="font-family:'Liberation Serif',serif;font-size:18.80px" fill="#111" stroke="#111" stroke-width="0.2" text-anchor="end">0.6</text>
<text transform="translate(524.30,319.56) scale(0.680,1)" style="font-family:'Liberation Serif',serif;font-size:18.80px" fill="#111" stroke="#111" stroke-width="0.2" text-anchor="middle">1</text>
<text transform="translate(588.40,319.56) scale(0.680,1)" style="font-family:'Liberation Serif',serif;font-size:18.80px" fill="#111" stroke="#111" stroke-width="0.2" text-anchor="middle">2</text>
<text transform="translate(651.70,319.56) scale(0.680,1)" style="font-family:'Liberation Serif',serif;font-size:18.80px" fill="#111" stroke="#111" stroke-width="0.2" text-anchor="middle">3</text>
<text transform="translate(715.80,319.56) scale(0.680,1)" style="font-family:'Liberation Serif',serif;font-size:18.80px" fill="#111" stroke="#111" stroke-width="0.2" text-anchor="middle">4</text>
<text transform="translate(758.24,305.86) scale(0.664,1)" style="font-family:'Liberation Serif',serif;font-style:italic;font-size:19.71px" fill="#111">η</text>
<path d="M460.50 155.39 L461.99 154.19 L463.49 153.01 L464.98 151.87 L466.47 150.75 L467.96 149.67 L469.46 148.62 L470.95 147.61 L472.44 146.63 L473.93 145.69 L475.43 144.79 L476.92 143.93 L478.41 143.11 L479.91 142.34 L481.40 141.61 L482.89 140.93 L484.38 140.30 L485.88 139.72 L487.37 139.19 L488.86 138.71 L490.35 138.28 L491.85 137.91 L493.34 137.60 L494.83 137.35 L496.33 137.15 L497.82 137.02 L499.31 136.95 L500.80 136.94 L502.30 137.00 L503.79 137.12 L505.28 137.32 L506.78 137.58 L508.27 137.92 L509.76 138.33 L511.25 138.81 L512.75 139.37 L514.24 140.00 L515.73 140.71 L517.22 141.51 L518.72 142.38 L520.21 143.34 L521.70 144.37 L523.20 145.48 L524.69 146.66 L526.18 147.91 L527.67 149.23 L529.17 150.62 L530.66 152.06 L532.15 153.57 L533.64 155.13 L535.14 156.74 L536.63 158.41 L538.12 160.12 L539.62 161.88 L541.11 163.69 L542.60 165.53 L544.09 167.41 L545.59 169.32 L547.08 171.27 L548.57 173.25 L550.06 175.25 L551.56 177.28 L553.05 179.33 L554.54 181.40 L556.04 183.48 L557.53 185.58 L559.02 187.68 L560.51 189.80 L562.01 191.92 L563.50 194.04 L564.99 196.16 L566.48 198.28 L567.98 200.39 L569.47 202.49 L570.96 204.59 L572.46 206.67 L573.95 208.74 L575.44 210.79 L576.93 212.82 L578.43 214.83 L579.92 216.83 L581.41 218.79 L582.91 220.73 L584.40 222.65 L585.89 224.53 L587.38 226.38 L588.88 228.20 L590.37 229.98 L591.86 231.73 L593.35 233.43 L594.85 235.09 L596.34 236.71 L597.83 238.28 L599.33 239.80 L600.82 241.28 L602.31 242.70 L603.80 244.07 L605.30 245.39 L606.79 246.66 L608.28 247.89 L609.77 249.08 L611.27 250.23 L612.76 251.35 L614.25 252.45 L615.75 253.52 L617.24 254.58 L618.73 255.62 L620.22 256.64 L621.72 257.67 L623.21 258.68 L624.70 259.70 L626.19 260.73 L627.69 261.76 L629.18 262.80 L630.67 263.83 L632.17 264.86 L633.66 265.88 L635.15 266.88 L636.64 267.86 L638.14 268.81 L639.63 269.72 L641.12 270.60 L642.62 271.44 L644.11 272.24 L645.60 273.02 L647.09 273.76 L648.59 274.47 L650.08 275.17 L651.57 275.84 L653.06 276.49 L654.56 277.12 L656.05 277.74 L657.54 278.34 L659.04 278.93 L660.53 279.49 L662.02 280.05 L663.51 280.58 L665.01 281.10 L666.50 281.61 L667.99 282.10 L669.48 282.58 L670.98 283.04 L672.47 283.49 L673.96 283.93 L675.46 284.35 L676.95 284.76 L678.44 285.16 L679.93 285.54 L681.43 285.92 L682.92 286.28 L684.41 286.63 L685.90 286.97 L687.40 287.30 L688.89 287.62 L690.38 287.93 L691.88 288.23 L693.37 288.52 L694.86 288.81 L696.35 289.08 L697.85 289.35 L699.34 289.61 L700.83 289.86 L702.32 290.10 L703.82 290.34 L705.31 290.57 L706.80 290.79 L708.30 291.01 L709.79 291.22 L711.28 291.43 L712.77 291.63 L714.27 291.83 L715.76 292.02 L717.25 292.21 L718.75 292.40 L720.24 292.58 L721.73 292.76 L723.22 292.94 L724.72 293.11 L726.21 293.29 L727.70 293.46 L729.19 293.63 L730.69 293.80 L732.18 293.97 L733.67 294.13 L735.17 294.30 L736.66 294.47 L738.15 294.64 L739.64 294.81 L741.14 294.98 L742.63 295.15 L744.12 295.33 L745.61 295.50 L747.11 295.68 L748.60 295.86" fill="none" stroke="#000" stroke-width="2.0" stroke-dasharray="4.6,2.4"/>
<path d="M460.50 155.14 L461.99 154.07 L463.49 153.04 L464.98 152.06 L466.47 151.13 L467.96 150.24 L469.46 149.41 L470.95 148.62 L472.44 147.89 L473.93 147.21 L475.43 146.58 L476.92 146.01 L478.41 145.50 L479.91 145.05 L481.40 144.65 L482.89 144.32 L484.38 144.05 L485.88 143.84 L487.37 143.69 L488.86 143.61 L490.35 143.60 L491.85 143.66 L493.34 143.78 L494.83 143.98 L496.33 144.25 L497.82 144.59 L499.31 145.00 L500.80 145.50 L502.30 146.06 L503.79 146.71 L505.28 147.44 L506.78 148.24 L508.27 149.13 L509.76 150.10 L511.25 151.16 L512.75 152.30 L514.24 153.53 L515.73 154.85 L517.22 156.25 L518.72 157.75 L520.21 159.34 L521.70 161.01 L523.20 162.77 L524.69 164.61 L526.18 166.53 L527.67 168.52 L529.17 170.58 L530.66 172.72 L532.15 174.92 L533.64 177.18 L535.14 179.50 L536.63 181.88 L538.12 184.30 L539.62 186.76 L541.11 189.25 L542.60 191.76 L544.09 194.27 L545.59 196.79 L547.08 199.30 L548.57 201.79 L550.06 204.27 L551.56 206.73 L553.05 209.17 L554.54 211.58 L556.04 213.96 L557.53 216.32 L559.02 218.65 L560.51 220.94 L562.01 223.20 L563.50 225.42 L564.99 227.59 L566.48 229.71 L567.98 231.79 L569.47 233.82 L570.96 235.81 L572.46 237.75 L573.95 239.64 L575.44 241.49 L576.93 243.30 L578.43 245.06 L579.92 246.78 L581.41 248.46 L582.91 250.10 L584.40 251.70 L585.89 253.26 L587.38 254.78 L588.88 256.26 L590.37 257.70 L591.86 259.11 L593.35 260.48 L594.85 261.81 L596.34 263.11 L597.83 264.38 L599.33 265.61 L600.82 266.81 L602.31 267.98 L603.80 269.11 L605.30 270.22 L606.79 271.29 L608.28 272.33 L609.77 273.35 L611.27 274.33 L612.76 275.29 L614.25 276.22 L615.75 277.12 L617.24 278.00 L618.73 278.84 L620.22 279.67 L621.72 280.46 L623.21 281.23 L624.70 281.98 L626.19 282.70 L627.69 283.39 L629.18 284.07 L630.67 284.72 L632.17 285.34 L633.66 285.95 L635.15 286.53 L636.64 287.09 L638.14 287.63 L639.63 288.15 L641.12 288.64 L642.62 289.12 L644.11 289.58 L645.60 290.02 L647.09 290.44 L648.59 290.84 L650.08 291.22 L651.57 291.59 L653.06 291.94 L654.56 292.27 L656.05 292.59 L657.54 292.89 L659.04 293.18 L660.53 293.45 L662.02 293.70 L663.51 293.94 L665.01 294.17 L666.50 294.39 L667.99 294.59 L669.48 294.78 L670.98 294.96 L672.47 295.12 L673.96 295.28 L675.46 295.42 L676.95 295.56 L678.44 295.68 L679.93 295.79 L681.43 295.90 L682.92 296.00 L684.41 296.08 L685.90 296.16 L687.40 296.24 L688.89 296.30 L690.38 296.36 L691.88 296.42 L693.37 296.46 L694.86 296.51 L696.35 296.54 L697.85 296.58 L699.34 296.61 L700.83 296.63 L702.32 296.66 L703.82 296.67 L705.31 296.69 L706.80 296.71 L708.30 296.72 L709.79 296.73 L711.28 296.75 L712.77 296.76 L714.27 296.77 L715.76 296.78 L717.25 296.80 L718.75 296.81 L720.24 296.83 L721.73 296.85 L723.22 296.87 L724.72 296.89 L726.21 296.92 L727.70 296.95 L729.19 296.99 L730.69 297.03 L732.18 297.08 L733.67 297.13 L735.17 297.19 L736.66 297.26 L738.15 297.33 L739.64 297.41 L741.14 297.49 L742.63 297.59 L744.12 297.69 L745.61 297.80 L747.11 297.93 L748.60 298.06" fill="none" stroke="#f70000" stroke-width="2.0" stroke-dasharray="4.6,2.4"/>
<path d="M460.50 154.24 L461.99 153.35 L463.49 152.52 L464.98 151.75 L466.47 151.05 L467.96 150.42 L469.46 149.85 L470.95 149.34 L472.44 148.91 L473.93 148.54 L475.43 148.23 L476.92 148.00 L478.41 147.83 L479.91 147.74 L481.40 147.71 L482.89 147.76 L484.38 147.88 L485.88 148.07 L487.37 148.33 L488.86 148.67 L490.35 149.08 L491.85 149.57 L493.34 150.13 L494.83 150.77 L496.33 151.49 L497.82 152.28 L499.31 153.16 L500.80 154.11 L502.30 155.14 L503.79 156.25 L505.28 157.45 L506.78 158.72 L508.27 160.08 L509.76 161.52 L511.25 163.04 L512.75 164.65 L514.24 166.34 L515.73 168.12 L517.22 169.99 L518.72 171.94 L520.21 173.98 L521.70 176.11 L523.20 178.33 L524.69 180.64 L526.18 183.04 L527.67 185.51 L529.17 188.05 L530.66 190.64 L532.15 193.28 L533.64 195.94 L535.14 198.62 L536.63 201.31 L538.12 203.98 L539.62 206.64 L541.11 209.27 L542.60 211.85 L544.09 214.38 L545.59 216.88 L547.08 219.33 L548.57 221.73 L550.06 224.09 L551.56 226.41 L553.05 228.68 L554.54 230.91 L556.04 233.09 L557.53 235.23 L559.02 237.32 L560.51 239.37 L562.01 241.37 L563.50 243.32 L564.99 245.22 L566.48 247.08 L567.98 248.89 L569.47 250.64 L570.96 252.35 L572.46 254.00 L573.95 255.60 L575.44 257.15 L576.93 258.64 L578.43 260.09 L579.92 261.49 L581.41 262.84 L582.91 264.14 L584.40 265.40 L585.89 266.62 L587.38 267.80 L588.88 268.93 L590.37 270.04 L591.86 271.10 L593.35 272.13 L594.85 273.13 L596.34 274.09 L597.83 275.03 L599.33 275.93 L600.82 276.81 L602.31 277.67 L603.80 278.50 L605.30 279.31 L606.79 280.09 L608.28 280.86 L609.77 281.60 L611.27 282.32 L612.76 283.01 L614.25 283.69 L615.75 284.34 L617.24 284.98 L618.73 285.59 L620.22 286.19 L621.72 286.77 L623.21 287.32 L624.70 287.86 L626.19 288.38 L627.69 288.88 L629.18 289.36 L630.67 289.83 L632.17 290.28 L633.66 290.71 L635.15 291.12 L636.64 291.52 L638.14 291.90 L639.63 292.27 L641.12 292.62 L642.62 292.96 L644.11 293.28 L645.60 293.59 L647.09 293.88 L648.59 294.16 L650.08 294.43 L651.57 294.68 L653.06 294.92 L654.56 295.15 L656.05 295.37 L657.54 295.57 L659.04 295.77 L660.53 295.95 L662.02 296.12 L663.51 296.28 L665.01 296.43 L666.50 296.57 L667.99 296.71 L669.48 296.83 L670.98 296.94 L672.47 297.05 L673.96 297.15 L675.46 297.24 L676.95 297.32 L678.44 297.39 L679.93 297.46 L681.43 297.52 L682.92 297.58 L684.41 297.63 L685.90 297.67 L687.40 297.71 L688.89 297.75 L690.38 297.78 L691.88 297.80 L693.37 297.82 L694.86 297.84 L696.35 297.85 L697.85 297.87 L699.34 297.87 L700.83 297.88 L702.32 297.89 L703.82 297.89 L705.31 297.89 L706.80 297.89 L708.30 297.89 L709.79 297.89 L711.28 297.89 L712.77 297.89 L714.27 297.89 L715.76 297.89 L717.25 297.90 L718.75 297.90 L720.24 297.91 L721.73 297.92 L723.22 297.93 L724.72 297.94 L726.21 297.96 L727.70 297.98 L729.19 298.01 L730.69 298.04 L732.18 298.07 L733.67 298.11 L735.17 298.15 L736.66 298.20 L738.15 298.26 L739.64 298.32 L741.14 298.39 L742.63 298.46 L744.12 298.54 L745.61 298.63 L747.11 298.73 L748.60 298.84" fill="none" stroke="#0000f5" stroke-width="2.0" stroke-dasharray="4.6,2.4"/>
<path d="M460.50 49.84 L461.99 49.02 L463.49 48.22 L464.98 47.44 L466.47 46.68 L467.96 45.95 L469.46 45.25 L470.95 44.58 L472.44 43.93 L473.93 43.32 L475.43 42.73 L476.92 42.18 L478.41 41.67 L479.91 41.18 L481.40 40.74 L482.89 40.33 L484.38 39.96 L485.88 39.63 L487.37 39.35 L488.86 39.10 L490.35 38.90 L491.85 38.75 L493.34 38.64 L494.83 38.57 L496.33 38.56 L497.82 38.60 L499.31 38.69 L500.80 38.83 L502.30 39.02 L503.79 39.27 L505.28 39.58 L506.78 39.94 L508.27 40.36 L509.76 40.84 L511.25 41.38 L512.75 41.99 L514.24 42.66 L515.73 43.39 L517.22 44.19 L518.72 45.05 L520.21 45.99 L521.70 46.99 L523.20 48.07 L524.69 49.21 L526.18 50.43 L527.67 51.73 L529.17 53.10 L530.66 54.55 L532.15 56.07 L533.64 57.68 L535.14 59.36 L536.63 61.13 L538.12 62.98 L539.62 64.92 L541.11 66.95 L542.60 69.06 L544.09 71.28 L545.59 73.58 L547.08 75.99 L548.57 78.50 L550.06 81.11 L551.56 83.83 L553.05 86.66 L554.54 89.60 L556.04 92.64 L557.53 95.74 L559.02 98.86 L560.51 101.99 L562.01 105.14 L563.50 108.29 L564.99 111.44 L566.48 114.60 L567.98 117.77 L569.47 120.93 L570.96 124.09 L572.46 127.26 L573.95 130.41 L575.44 133.57 L576.93 136.72 L578.43 139.85 L579.92 142.98 L581.41 146.10 L582.91 149.21 L584.40 152.30 L585.89 155.37 L587.38 158.43 L588.88 161.47 L590.37 164.49 L591.86 167.49 L593.35 170.46 L594.85 173.41 L596.34 176.34 L597.83 179.25 L599.33 182.12 L600.82 184.97 L602.31 187.79 L603.80 190.58 L605.30 193.34 L606.79 196.06 L608.28 198.76 L609.77 201.41 L611.27 204.03 L612.76 206.61 L614.25 209.16 L615.75 211.66 L617.24 214.13 L618.73 216.55 L620.22 218.93 L621.72 221.26 L623.21 223.55 L624.70 225.79 L626.19 227.99 L627.69 230.13 L629.18 232.22 L630.67 234.27 L632.17 236.26 L633.66 238.19 L635.15 240.07 L636.64 241.90 L638.14 243.67 L639.63 245.37 L641.12 247.02 L642.62 248.62 L644.11 250.17 L645.60 251.68 L647.09 253.16 L648.59 254.61 L650.08 256.05 L651.57 257.48 L653.06 258.91 L654.56 260.34 L656.05 261.75 L657.54 263.15 L659.04 264.53 L660.53 265.88 L662.02 267.19 L663.51 268.46 L665.01 269.69 L666.50 270.88 L667.99 272.01 L669.48 273.10 L670.98 274.15 L672.47 275.15 L673.96 276.12 L675.46 277.04 L676.95 277.92 L678.44 278.77 L679.93 279.58 L681.43 280.35 L682.92 281.09 L684.41 281.79 L685.90 282.46 L687.40 283.11 L688.89 283.72 L690.38 284.30 L691.88 284.86 L693.37 285.38 L694.86 285.89 L696.35 286.37 L697.85 286.83 L699.34 287.26 L700.83 287.68 L702.32 288.07 L703.82 288.45 L705.31 288.81 L706.80 289.16 L708.30 289.49 L709.79 289.80 L711.28 290.11 L712.77 290.40 L714.27 290.68 L715.76 290.96 L717.25 291.22 L718.75 291.48 L720.24 291.74 L721.73 291.99 L723.22 292.24 L724.72 292.48 L726.21 292.73 L727.70 292.98 L729.19 293.22 L730.69 293.47 L732.18 293.73 L733.67 293.99 L735.17 294.25 L736.66 294.53 L738.15 294.81 L739.64 295.10 L741.14 295.41 L742.63 295.72 L744.12 296.05 L745.61 296.40 L747.11 296.75 L748.60 297.13" fill="none" stroke="#000" stroke-width="2.0"/>
<path d="M460.50 50.19 L461.99 49.34 L463.49 48.53 L464.98 47.78 L466.47 47.08 L467.96 46.43 L469.46 45.84 L470.95 45.30 L472.44 44.82 L473.93 44.40 L475.43 44.04 L476.92 43.74 L478.41 43.50 L479.91 43.33 L481.40 43.22 L482.89 43.18 L484.38 43.21 L485.88 43.30 L487.37 43.47 L488.86 43.71 L490.35 44.03 L491.85 44.42 L493.34 44.88 L494.83 45.43 L496.33 46.05 L497.82 46.75 L499.31 47.54 L500.80 48.41 L502.30 49.36 L503.79 50.41 L505.28 51.53 L506.78 52.75 L508.27 54.06 L509.76 55.46 L511.25 56.95 L512.75 58.54 L514.24 60.22 L515.73 62.00 L517.22 63.88 L518.72 65.86 L520.21 67.94 L521.70 70.12 L523.20 72.41 L524.69 74.81 L526.18 77.30 L527.67 79.90 L529.17 82.60 L530.66 85.39 L532.15 88.28 L533.64 91.25 L535.14 94.30 L536.63 97.43 L538.12 100.64 L539.62 103.91 L541.11 107.26 L542.60 110.67 L544.09 114.14 L545.59 117.67 L547.08 121.25 L548.57 124.88 L550.06 128.56 L551.56 132.27 L553.05 136.01 L554.54 139.78 L556.04 143.57 L557.53 147.38 L559.02 151.19 L560.51 155.01 L562.01 158.83 L563.50 162.64 L564.99 166.43 L566.48 170.21 L567.98 173.96 L569.47 177.68 L570.96 181.37 L572.46 185.01 L573.95 188.60 L575.44 192.14 L576.93 195.62 L578.43 199.04 L579.92 202.40 L581.41 205.69 L582.91 208.91 L584.40 212.07 L585.89 215.17 L587.38 218.20 L588.88 221.17 L590.37 224.07 L591.86 226.90 L593.35 229.67 L594.85 232.38 L596.34 235.02 L597.83 237.59 L599.33 240.10 L600.82 242.54 L602.31 244.91 L603.80 247.22 L605.30 249.45 L606.79 251.63 L608.28 253.73 L609.77 255.77 L611.27 257.74 L612.76 259.64 L614.25 261.47 L615.75 263.23 L617.24 264.93 L618.73 266.56 L620.22 268.13 L621.72 269.64 L623.21 271.09 L624.70 272.47 L626.19 273.80 L627.69 275.08 L629.18 276.29 L630.67 277.46 L632.17 278.57 L633.66 279.63 L635.15 280.65 L636.64 281.61 L638.14 282.53 L639.63 283.41 L641.12 284.24 L642.62 285.03 L644.11 285.78 L645.60 286.49 L647.09 287.17 L648.59 287.81 L650.08 288.41 L651.57 288.98 L653.06 289.52 L654.56 290.03 L656.05 290.52 L657.54 290.97 L659.04 291.40 L660.53 291.81 L662.02 292.19 L663.51 292.55 L665.01 292.90 L666.50 293.22 L667.99 293.53 L669.48 293.82 L670.98 294.09 L672.47 294.35 L673.96 294.59 L675.46 294.81 L676.95 295.02 L678.44 295.22 L679.93 295.40 L681.43 295.57 L682.92 295.72 L684.41 295.87 L685.90 296.00 L687.40 296.12 L688.89 296.23 L690.38 296.33 L691.88 296.42 L693.37 296.51 L694.86 296.58 L696.35 296.65 L697.85 296.70 L699.34 296.76 L700.83 296.80 L702.32 296.84 L703.82 296.88 L705.31 296.91 L706.80 296.93 L708.30 296.96 L709.79 296.97 L711.28 296.99 L712.77 297.01 L714.27 297.02 L715.76 297.03 L717.25 297.04 L718.75 297.06 L720.24 297.07 L721.73 297.08 L723.22 297.10 L724.72 297.12 L726.21 297.14 L727.70 297.16 L729.19 297.19 L730.69 297.23 L732.18 297.26 L733.67 297.31 L735.17 297.36 L736.66 297.41 L738.15 297.48 L739.64 297.55 L741.14 297.63 L742.63 297.71 L744.12 297.81 L745.61 297.92 L747.11 298.03 L748.60 298.16" fill="none" stroke="#f70000" stroke-width="2.0"/>
<path d="M460.50 48.52 L461.99 48.12 L463.49 47.75 L464.98 47.41 L466.47 47.10 L467.96 46.83 L469.46 46.59 L470.95 46.39 L472.44 46.23 L473.93 46.12 L475.43 46.07 L476.92 46.06 L478.41 46.11 L479.91 46.22 L481.40 46.40 L482.89 46.64 L484.38 46.95 L485.88 47.33 L487.37 47.79 L488.86 48.32 L490.35 48.94 L491.85 49.64 L493.34 50.43 L494.83 51.32 L496.33 52.29 L497.82 53.37 L499.31 54.54 L500.80 55.82 L502.30 57.21 L503.79 58.71 L505.28 60.32 L506.78 62.05 L508.27 63.90 L509.76 65.87 L511.25 67.97 L512.75 70.20 L514.24 72.56 L515.73 75.06 L517.22 77.69 L518.72 80.47 L520.21 83.38 L521.70 86.42 L523.20 89.58 L524.69 92.85 L526.18 96.21 L527.67 99.66 L529.17 103.18 L530.66 106.72 L532.15 110.27 L533.64 113.81 L535.14 117.36 L536.63 120.93 L538.12 124.54 L539.62 128.21 L541.11 131.95 L542.60 135.78 L544.09 139.72 L545.59 143.78 L547.08 147.93 L548.57 152.16 L550.06 156.44 L551.56 160.76 L553.05 165.08 L554.54 169.38 L556.04 173.65 L557.53 177.86 L559.02 181.99 L560.51 186.03 L562.01 189.98 L563.50 193.85 L564.99 197.63 L566.48 201.32 L567.98 204.91 L569.47 208.43 L570.96 211.85 L572.46 215.19 L573.95 218.44 L575.44 221.60 L576.93 224.67 L578.43 227.67 L579.92 230.57 L581.41 233.39 L582.91 236.13 L584.40 238.78 L585.89 241.35 L587.38 243.83 L588.88 246.24 L590.37 248.56 L591.86 250.80 L593.35 252.96 L594.85 255.04 L596.34 257.04 L597.83 258.97 L599.33 260.83 L600.82 262.62 L602.31 264.33 L603.80 265.98 L605.30 267.57 L606.79 269.09 L608.28 270.54 L609.77 271.94 L611.27 273.28 L612.76 274.56 L614.25 275.78 L615.75 276.95 L617.24 278.07 L618.73 279.14 L620.22 280.16 L621.72 281.14 L623.21 282.07 L624.70 282.95 L626.19 283.80 L627.69 284.60 L629.18 285.37 L630.67 286.10 L632.17 286.80 L633.66 287.46 L635.15 288.10 L636.64 288.70 L638.14 289.27 L639.63 289.83 L641.12 290.35 L642.62 290.85 L644.11 291.33 L645.60 291.79 L647.09 292.23 L648.59 292.64 L650.08 293.04 L651.57 293.41 L653.06 293.77 L654.56 294.10 L656.05 294.42 L657.54 294.72 L659.04 295.00 L660.53 295.26 L662.02 295.51 L663.51 295.74 L665.01 295.96 L666.50 296.16 L667.99 296.35 L669.48 296.52 L670.98 296.68 L672.47 296.82 L673.96 296.96 L675.46 297.08 L676.95 297.19 L678.44 297.29 L679.93 297.38 L681.43 297.45 L682.92 297.52 L684.41 297.58 L685.90 297.64 L687.40 297.68 L688.89 297.72 L690.38 297.75 L691.88 297.77 L693.37 297.79 L694.86 297.80 L696.35 297.81 L697.85 297.81 L699.34 297.81 L700.83 297.81 L702.32 297.81 L703.82 297.81 L705.31 297.81 L706.80 297.81 L708.30 297.81 L709.79 297.81 L711.28 297.81 L712.77 297.81 L714.27 297.81 L715.76 297.81 L717.25 297.81 L718.75 297.81 L720.24 297.81 L721.73 297.81 L723.22 297.81 L724.72 297.81 L726.21 297.81 L727.70 297.81 L729.19 297.81 L730.69 297.82 L732.18 297.87 L733.67 297.92 L735.17 297.98 L736.66 298.05 L738.15 298.13 L739.64 298.22 L741.14 298.32 L742.63 298.43 L744.12 298.56 L745.61 298.69 L747.11 298.84 L748.60 299.00" fill="none" stroke="#0000f5" stroke-width="2.0"/>
<line x1="57.2" y1="616.7" x2="348.7" y2="616.7" stroke="#cbcbcb" stroke-width="1" stroke-dasharray="2.6,2.0"/>
<line x1="57.2" y1="573.0" x2="348.7" y2="573.0" stroke="#cbcbcb" stroke-width="1" stroke-dasharray="2.6,2.0"/>
<line x1="57.2" y1="529.5" x2="348.7" y2="529.5" stroke="#cbcbcb" stroke-width="1" stroke-dasharray="2.6,2.0"/>
<line x1="57.2" y1="485.7" x2="348.7" y2="485.7" stroke="#cbcbcb" stroke-width="1" stroke-dasharray="2.6,2.0"/>
<line x1="57.2" y1="441.7" x2="348.7" y2="441.7" stroke="#cbcbcb" stroke-width="1" stroke-dasharray="2.6,2.0"/>
<line x1="57.2" y1="398.6" x2="348.7" y2="398.6" stroke="#cbcbcb" stroke-width="1" stroke-dasharray="2.6,2.0"/>
<line x1="126.8" y1="390.9" x2="126.8" y2="659.2" stroke="#d0d0d0" stroke-width="1" stroke-dasharray="3.7,3.2"/>
<line x1="198.7" y1="390.9" x2="198.7" y2="659.2" stroke="#d0d0d0" stroke-width="1" stroke-dasharray="3.7,3.2"/>
<line x1="270.4" y1="390.9" x2="270.4" y2="659.2" stroke="#d0d0d0" stroke-width="1" stroke-dasharray="3.7,3.2"/>
<line x1="342.6" y1="390.9" x2="342.6" y2="659.2" stroke="#d0d0d0" stroke-width="1" stroke-dasharray="3.7,3.2"/>
<line x1="49.7" y1="660.2" x2="348.7" y2="660.2" stroke="#404040" stroke-width="1.3"/>
<line x1="55.2" y1="390.9" x2="55.2" y2="668.9" stroke="#555" stroke-width="1.15"/>
<line x1="55.2" y1="651.3" x2="57.5" y2="651.3" stroke="#404040" stroke-width="1"/>
<line x1="55.2" y1="642.7" x2="57.5" y2="642.7" stroke="#404040" stroke-width="1"/>
<line x1="55.2" y1="634.0" x2="57.5" y2="634.0" stroke="#404040" stroke-width="1"/>
<line x1="55.2" y1="625.4" x2="57.5" y2="625.4" stroke="#404040" stroke-width="1"/>
<line x1="55.2" y1="616.7" x2="58.7" y2="616.7" stroke="#404040" stroke-width="1"/>
<line x1="55.2" y1="608.0" x2="57.5" y2="608.0" stroke="#404040" stroke-width="1"/>
<line x1="55.2" y1="599.2" x2="57.5" y2="599.2" stroke="#404040" stroke-width="1"/>
<line x1="55.2" y1="590.5" x2="57.5" y2="590.5" stroke="#404040" stroke-width="1"/>
<line x1="55.2" y1="581.7" x2="57.5" y2="581.7" stroke="#404040" stroke-width="1"/>
<line x1="55.2" y1="573.0" x2="58.7" y2="573.0" stroke="#404040" stroke-width="1"/>
<line x1="55.2" y1="564.3" x2="57.5" y2="564.3" stroke="#404040" stroke-width="1"/>
<line x1="55.2" y1="555.6" x2="57.5" y2="555.6" stroke="#404040" stroke-width="1"/>
<line x1="55.2" y1="546.9" x2="57.5" y2="546.9" stroke="#404040" stroke-width="1"/>
<line x1="55.2" y1="538.2" x2="57.5" y2="538.2" stroke="#404040" stroke-width="1"/>
<line x1="55.2" y1="529.5" x2="58.7" y2="529.5" stroke="#404040" stroke-width="1"/>
<line x1="55.2" y1="520.7" x2="57.5" y2="520.7" stroke="#404040" stroke-width="1"/>
<line x1="55.2" y1="512.0" x2="57.5" y2="512.0" stroke="#404040" stroke-width="1"/>
<line x1="55.2" y1="503.2" x2="57.5" y2="503.2" stroke="#404040" stroke-width="1"/>
<line x1="55.2" y1="494.5" x2="57.5" y2="494.5" stroke="#404040" stroke-width="1"/>
<line x1="55.2" y1="485.7" x2="58.7" y2="485.7" stroke="#404040" stroke-width="1"/>
<line x1="55.2" y1="476.9" x2="57.5" y2="476.9" stroke="#404040" stroke-width="1"/>
<line x1="55.2" y1="468.1" x2="57.5" y2="468.1" stroke="#404040" stroke-width="1"/>
<line x1="55.2" y1="459.3" x2="57.5" y2="459.3" stroke="#404040" stroke-width="1"/>
<line x1="55.2" y1="450.5" x2="57.5" y2="450.5" stroke="#404040" stroke-width="1"/>
<line x1="55.2" y1="441.7" x2="58.7" y2="441.7" stroke="#404040" stroke-width="1"/>
<line x1="55.2" y1="433.1" x2="57.5" y2="433.1" stroke="#404040" stroke-width="1"/>
<line x1="55.2" y1="424.5" x2="57.5" y2="424.5" stroke="#404040" stroke-width="1"/>
<line x1="55.2" y1="415.8" x2="57.5" y2="415.8" stroke="#404040" stroke-width="1"/>
<line x1="55.2" y1="407.2" x2="57.5" y2="407.2" stroke="#404040" stroke-width="1"/>
<line x1="55.2" y1="398.6" x2="58.7" y2="398.6" stroke="#404040" stroke-width="1"/>
<line x1="69.5" y1="660.0" x2="69.5" y2="657.7" stroke="#404040" stroke-width="1"/>
<line x1="83.8" y1="660.0" x2="83.8" y2="657.7" stroke="#404040" stroke-width="1"/>
<line x1="98.2" y1="660.0" x2="98.2" y2="657.7" stroke="#404040" stroke-width="1"/>
<line x1="112.5" y1="660.0" x2="112.5" y2="657.7" stroke="#404040" stroke-width="1"/>
<line x1="126.8" y1="660.0" x2="126.8" y2="656.5" stroke="#404040" stroke-width="1"/>
<line x1="141.2" y1="660.0" x2="141.2" y2="657.7" stroke="#404040" stroke-width="1"/>
<line x1="155.6" y1="660.0" x2="155.6" y2="657.7" stroke="#404040" stroke-width="1"/>
<line x1="169.9" y1="660.0" x2="169.9" y2="657.7" stroke="#404040" stroke-width="1"/>
<line x1="184.3" y1="660.0" x2="184.3" y2="657.7" stroke="#404040" stroke-width="1"/>
<line x1="198.7" y1="660.0" x2="198.7" y2="656.5" stroke="#404040" stroke-width="1"/>
<line x1="213.0" y1="660.0" x2="213.0" y2="657.7" stroke="#404040" stroke-width="1"/>
<line x1="227.4" y1="660.0" x2="227.4" y2="657.7" stroke="#404040" stroke-width="1"/>
<line x1="241.7" y1="660.0" x2="241.7" y2="657.7" stroke="#404040" stroke-width="1"/>
<line x1="256.1" y1="660.0" x2="256.1" y2="657.7" stroke="#404040" stroke-width="1"/>
<line x1="270.4" y1="660.0" x2="270.4" y2="656.5" stroke="#404040" stroke-width="1"/>
<line x1="284.8" y1="660.0" x2="284.8" y2="657.7" stroke="#404040" stroke-width="1"/>
<line x1="299.3" y1="660.0" x2="299.3" y2="657.7" stroke="#404040" stroke-width="1"/>
<line x1="313.7" y1="660.0" x2="313.7" y2="657.7" stroke="#404040" stroke-width="1"/>
<line x1="328.2" y1="660.0" x2="328.2" y2="657.7" stroke="#404040" stroke-width="1"/>
<line x1="342.6" y1="660.0" x2="342.6" y2="656.5" stroke="#404040" stroke-width="1"/>
<text transform="translate(53.30,622.86) scale(0.680,1)" style="font-family:'Liberation Serif',serif;font-size:18.80px" fill="#111" stroke="#111" stroke-width="0.2" text-anchor="end">0.1</text>
<text transform="translate(53.30,579.16) scale(0.680,1)" style="font-family:'Liberation Serif',serif;font-size:18.80px" fill="#111" stroke="#111" stroke-width="0.2" text-anchor="end">0.2</text>
<text transform="translate(53.30,535.66) scale(0.680,1)" style="font-family:'Liberation Serif',serif;font-size:18.80px" fill="#111" stroke="#111" stroke-width="0.2" text-anchor="end">0.3</text>
<text transform="translate(53.30,491.86) scale(0.680,1)" style="font-family:'Liberation Serif',serif;font-size:18.80px" fill="#111" stroke="#111" stroke-width="0.2" text-anchor="end">0.4</text>
<text transform="translate(53.30,447.86) scale(0.680,1)" style="font-family:'Liberation Serif',serif;font-size:18.80px" fill="#111" stroke="#111" stroke-width="0.2" text-anchor="end">0.5</text>
<text transform="translate(53.30,404.76) scale(0.680,1)" style="font-family:'Liberation Serif',serif;font-size:18.80px" fill="#111" stroke="#111" stroke-width="0.2" text-anchor="end">0.6</text>
<text transform="translate(126.80,680.26) scale(0.680,1)" style="font-family:'Liberation Serif',serif;font-size:18.80px" fill="#111" stroke="#111" stroke-width="0.2" text-anchor="middle">1</text>
<text transform="translate(198.70,680.26) scale(0.680,1)" style="font-family:'Liberation Serif',serif;font-size:18.80px" fill="#111" stroke="#111" stroke-width="0.2" text-anchor="middle">2</text>
<text transform="translate(270.40,680.26) scale(0.680,1)" style="font-family:'Liberation Serif',serif;font-size:18.80px" fill="#111" stroke="#111" stroke-width="0.2" text-anchor="middle">3</text>
<text transform="translate(342.60,680.26) scale(0.680,1)" style="font-family:'Liberation Serif',serif;font-size:18.80px" fill="#111" stroke="#111" stroke-width="0.2" text-anchor="middle">4</text>
<text transform="translate(353.00,665.99) scale(0.747,1)" style="font-family:'Liberation Serif',serif;font-style:italic;font-size:19.12px" fill="#111">η</text>
<path d="M55.20 418.55 L56.70 418.80 L58.19 419.11 L59.69 419.48 L61.19 419.91 L62.69 420.39 L64.18 420.93 L65.68 421.53 L67.18 422.18 L68.68 422.88 L70.17 423.63 L71.67 424.44 L73.17 425.30 L74.67 426.21 L76.16 427.17 L77.66 428.18 L79.16 429.24 L80.66 430.35 L82.15 431.51 L83.65 432.71 L85.15 433.96 L86.65 435.25 L88.14 436.59 L89.64 437.98 L91.14 439.41 L92.63 440.88 L94.13 442.39 L95.63 443.95 L97.13 445.54 L98.62 447.18 L100.12 448.86 L101.62 450.57 L103.12 452.33 L104.61 454.12 L106.11 455.95 L107.61 457.81 L109.11 459.71 L110.60 461.65 L112.10 463.62 L113.60 465.62 L115.10 467.66 L116.59 469.73 L118.09 471.83 L119.59 473.96 L121.09 476.13 L122.58 478.32 L124.08 480.54 L125.58 482.79 L127.08 485.07 L128.57 487.37 L130.07 489.69 L131.57 492.03 L133.06 494.40 L134.56 496.78 L136.06 499.18 L137.56 501.59 L139.05 504.02 L140.55 506.46 L142.05 508.91 L143.55 511.37 L145.04 513.84 L146.54 516.32 L148.04 518.79 L149.54 521.28 L151.03 523.76 L152.53 526.24 L154.03 528.72 L155.53 531.20 L157.02 533.67 L158.52 536.14 L160.02 538.60 L161.52 541.05 L163.01 543.49 L164.51 545.91 L166.01 548.33 L167.50 550.72 L169.00 553.10 L170.50 555.47 L172.00 557.81 L173.49 560.13 L174.99 562.42 L176.49 564.69 L177.99 566.94 L179.48 569.16 L180.98 571.35 L182.48 573.50 L183.98 575.63 L185.47 577.72 L186.97 579.78 L188.47 581.79 L189.97 583.77 L191.46 585.71 L192.96 587.61 L194.46 589.47 L195.96 591.28 L197.45 593.04 L198.95 594.77 L200.45 596.45 L201.94 598.09 L203.44 599.69 L204.94 601.25 L206.44 602.77 L207.93 604.26 L209.43 605.71 L210.93 607.13 L212.43 608.52 L213.92 609.88 L215.42 611.20 L216.92 612.50 L218.42 613.76 L219.91 615.01 L221.41 616.22 L222.91 617.41 L224.41 618.58 L225.90 619.73 L227.40 620.85 L228.90 621.95 L230.40 623.03 L231.89 624.08 L233.39 625.12 L234.89 626.13 L236.38 627.12 L237.88 628.09 L239.38 629.04 L240.88 629.97 L242.37 630.88 L243.87 631.77 L245.37 632.64 L246.87 633.49 L248.36 634.32 L249.86 635.14 L251.36 635.93 L252.86 636.71 L254.35 637.47 L255.85 638.22 L257.35 638.94 L258.85 639.65 L260.34 640.34 L261.84 641.02 L263.34 641.68 L264.84 642.32 L266.33 642.95 L267.83 643.56 L269.33 644.16 L270.82 644.73 L272.32 645.30 L273.82 645.85 L275.32 646.38 L276.81 646.90 L278.31 647.40 L279.81 647.89 L281.31 648.37 L282.80 648.83 L284.30 649.27 L285.80 649.70 L287.30 650.12 L288.79 650.53 L290.29 650.92 L291.79 651.30 L293.29 651.66 L294.78 652.01 L296.28 652.35 L297.78 652.68 L299.28 652.99 L300.77 653.29 L302.27 653.58 L303.77 653.86 L305.27 654.13 L306.76 654.38 L308.26 654.63 L309.76 654.86 L311.25 655.08 L312.75 655.29 L314.25 655.49 L315.75 655.68 L317.24 655.86 L318.74 656.03 L320.24 656.19 L321.74 656.33 L323.23 656.47 L324.73 656.60 L326.23 656.72 L327.73 656.83 L329.22 656.94 L330.72 657.03 L332.22 657.11 L333.72 657.19 L335.21 657.26 L336.71 657.32 L338.21 657.37 L339.71 657.41 L341.20 657.45 L342.70 657.48" fill="none" stroke="#000" stroke-width="2.0" stroke-dasharray="4.6,2.4"/>
<path d="M55.20 462.96 L56.70 462.70 L58.19 462.48 L59.69 462.31 L61.19 462.19 L62.69 462.12 L64.18 462.09 L65.68 462.12 L67.18 462.19 L68.68 462.32 L70.17 462.49 L71.67 462.71 L73.17 462.99 L74.67 463.31 L76.16 463.68 L77.66 464.11 L79.16 464.59 L80.66 465.12 L82.15 465.70 L83.65 466.33 L85.15 467.01 L86.65 467.75 L88.14 468.54 L89.64 469.38 L91.14 470.28 L92.63 471.23 L94.13 472.23 L95.63 473.29 L97.13 474.40 L98.62 475.56 L100.12 476.78 L101.62 478.06 L103.12 479.39 L104.61 480.78 L106.11 482.22 L107.61 483.72 L109.11 485.27 L110.60 486.88 L112.10 488.55 L113.60 490.27 L115.10 492.06 L116.59 493.90 L118.09 495.79 L119.59 497.74 L121.09 499.73 L122.58 501.78 L124.08 503.86 L125.58 505.99 L127.08 508.16 L128.57 510.36 L130.07 512.59 L131.57 514.86 L133.06 517.15 L134.56 519.46 L136.06 521.80 L137.56 524.15 L139.05 526.52 L140.55 528.90 L142.05 531.29 L143.55 533.69 L145.04 536.09 L146.54 538.49 L148.04 540.89 L149.54 543.28 L151.03 545.67 L152.53 548.05 L154.03 550.41 L155.53 552.76 L157.02 555.10 L158.52 557.42 L160.02 559.72 L161.52 562.00 L163.01 564.27 L164.51 566.51 L166.01 568.73 L167.50 570.93 L169.00 573.10 L170.50 575.25 L172.00 577.37 L173.49 579.47 L174.99 581.53 L176.49 583.57 L177.99 585.57 L179.48 587.54 L180.98 589.48 L182.48 591.38 L183.98 593.25 L185.47 595.08 L186.97 596.87 L188.47 598.63 L189.97 600.34 L191.46 602.01 L192.96 603.63 L194.46 605.22 L195.96 606.75 L197.45 608.25 L198.95 609.70 L200.45 611.11 L201.94 612.48 L203.44 613.81 L204.94 615.11 L206.44 616.38 L207.93 617.61 L209.43 618.82 L210.93 619.99 L212.43 621.15 L213.92 622.28 L215.42 623.38 L216.92 624.46 L218.42 625.52 L219.91 626.56 L221.41 627.58 L222.91 628.57 L224.41 629.54 L225.90 630.49 L227.40 631.42 L228.90 632.33 L230.40 633.22 L231.89 634.08 L233.39 634.93 L234.89 635.75 L236.38 636.56 L237.88 637.35 L239.38 638.12 L240.88 638.86 L242.37 639.59 L243.87 640.30 L245.37 641.00 L246.87 641.67 L248.36 642.33 L249.86 642.97 L251.36 643.59 L252.86 644.19 L254.35 644.78 L255.85 645.35 L257.35 645.90 L258.85 646.44 L260.34 646.96 L261.84 647.47 L263.34 647.96 L264.84 648.44 L266.33 648.90 L267.83 649.34 L269.33 649.77 L270.82 650.19 L272.32 650.59 L273.82 650.98 L275.32 651.36 L276.81 651.72 L278.31 652.07 L279.81 652.40 L281.31 652.73 L282.80 653.04 L284.30 653.33 L285.80 653.62 L287.30 653.90 L288.79 654.16 L290.29 654.41 L291.79 654.65 L293.29 654.88 L294.78 655.10 L296.28 655.31 L297.78 655.51 L299.28 655.70 L300.77 655.88 L302.27 656.05 L303.77 656.21 L305.27 656.37 L306.76 656.51 L308.26 656.65 L309.76 656.77 L311.25 656.89 L312.75 657.00 L314.25 657.11 L315.75 657.21 L317.24 657.30 L318.74 657.38 L320.24 657.46 L321.74 657.53 L323.23 657.60 L324.73 657.66 L326.23 657.71 L327.73 657.76 L329.22 657.80 L330.72 657.84 L332.22 657.87 L333.72 657.90 L335.21 657.93 L336.71 657.95 L338.21 657.97 L339.71 657.99 L341.20 658.00 L342.70 658.01" fill="none" stroke="#f70000" stroke-width="2.0" stroke-dasharray="4.6,2.4"/>
<path d="M55.20 493.11 L56.70 492.65 L58.19 492.22 L59.69 491.83 L61.19 491.46 L62.69 491.12 L64.18 490.82 L65.68 490.55 L67.18 490.32 L68.68 490.13 L70.17 489.98 L71.67 489.87 L73.17 489.80 L74.67 489.78 L76.16 489.80 L77.66 489.87 L79.16 489.99 L80.66 490.17 L82.15 490.39 L83.65 490.67 L85.15 491.00 L86.65 491.39 L88.14 491.85 L89.64 492.36 L91.14 492.93 L92.63 493.57 L94.13 494.27 L95.63 495.03 L97.13 495.87 L98.62 496.77 L100.12 497.73 L101.62 498.76 L103.12 499.87 L104.61 501.03 L106.11 502.27 L107.61 503.58 L109.11 504.95 L110.60 506.39 L112.10 507.91 L113.60 509.49 L115.10 511.15 L116.59 512.87 L118.09 514.67 L119.59 516.54 L121.09 518.47 L122.58 520.47 L124.08 522.52 L125.58 524.63 L127.08 526.78 L128.57 528.97 L130.07 531.20 L131.57 533.46 L133.06 535.74 L134.56 538.05 L136.06 540.36 L137.56 542.69 L139.05 545.03 L140.55 547.36 L142.05 549.69 L143.55 552.00 L145.04 554.30 L146.54 556.58 L148.04 558.83 L149.54 561.06 L151.03 563.27 L152.53 565.46 L154.03 567.61 L155.53 569.75 L157.02 571.86 L158.52 573.94 L160.02 575.99 L161.52 578.02 L163.01 580.02 L164.51 582.00 L166.01 583.95 L167.50 585.87 L169.00 587.76 L170.50 589.62 L172.00 591.45 L173.49 593.25 L174.99 595.02 L176.49 596.77 L177.99 598.48 L179.48 600.16 L180.98 601.80 L182.48 603.42 L183.98 605.00 L185.47 606.55 L186.97 608.07 L188.47 609.55 L189.97 611.00 L191.46 612.42 L192.96 613.80 L194.46 615.15 L195.96 616.46 L197.45 617.75 L198.95 619.00 L200.45 620.22 L201.94 621.40 L203.44 622.56 L204.94 623.69 L206.44 624.79 L207.93 625.86 L209.43 626.91 L210.93 627.92 L212.43 628.92 L213.92 629.88 L215.42 630.83 L216.92 631.74 L218.42 632.64 L219.91 633.51 L221.41 634.36 L222.91 635.19 L224.41 636.00 L225.90 636.79 L227.40 637.57 L228.90 638.32 L230.40 639.05 L231.89 639.77 L233.39 640.48 L234.89 641.16 L236.38 641.83 L237.88 642.49 L239.38 643.12 L240.88 643.74 L242.37 644.35 L243.87 644.94 L245.37 645.52 L246.87 646.08 L248.36 646.62 L249.86 647.15 L251.36 647.67 L252.86 648.17 L254.35 648.66 L255.85 649.13 L257.35 649.59 L258.85 650.03 L260.34 650.47 L261.84 650.89 L263.34 651.29 L264.84 651.68 L266.33 652.06 L267.83 652.43 L269.33 652.78 L270.82 653.13 L272.32 653.46 L273.82 653.77 L275.32 654.08 L276.81 654.37 L278.31 654.66 L279.81 654.93 L281.31 655.19 L282.80 655.44 L284.30 655.68 L285.80 655.91 L287.30 656.12 L288.79 656.33 L290.29 656.53 L291.79 656.72 L293.29 656.89 L294.78 657.06 L296.28 657.22 L297.78 657.37 L299.28 657.51 L300.77 657.64 L302.27 657.77 L303.77 657.88 L305.27 657.99 L306.76 658.09 L308.26 658.18 L309.76 658.26 L311.25 658.34 L312.75 658.40 L314.25 658.46 L315.75 658.52 L317.24 658.56 L318.74 658.60 L320.24 658.63 L321.74 658.66 L323.23 658.68 L324.73 658.69 L326.23 658.70 L327.73 658.70 L329.22 658.70 L330.72 658.70 L332.22 658.70 L333.72 658.70 L335.21 658.70 L336.71 658.70 L338.21 658.70 L339.71 658.70 L341.20 658.70 L342.70 658.70" fill="none" stroke="#0000f5" stroke-width="2.0" stroke-dasharray="4.6,2.4"/>
<path d="M55.20 399.91 L56.70 400.85 L58.19 401.83 L59.69 402.87 L61.19 403.96 L62.69 405.09 L64.18 406.27 L65.68 407.49 L67.18 408.76 L68.68 410.07 L70.17 411.42 L71.67 412.82 L73.17 414.25 L74.67 415.73 L76.16 417.24 L77.66 418.79 L79.16 420.38 L80.66 422.01 L82.15 423.67 L83.65 425.36 L85.15 427.09 L86.65 428.86 L88.14 430.65 L89.64 432.48 L91.14 434.33 L92.63 436.22 L94.13 438.13 L95.63 440.07 L97.13 442.04 L98.62 444.04 L100.12 446.06 L101.62 448.10 L103.12 450.17 L104.61 452.26 L106.11 454.37 L107.61 456.50 L109.11 458.65 L110.60 460.82 L112.10 463.01 L113.60 465.22 L115.10 467.44 L116.59 469.68 L118.09 471.93 L119.59 474.20 L121.09 476.48 L122.58 478.77 L124.08 481.07 L125.58 483.39 L127.08 485.71 L128.57 488.04 L130.07 490.38 L131.57 492.73 L133.06 495.08 L134.56 497.43 L136.06 499.80 L137.56 502.16 L139.05 504.53 L140.55 506.90 L142.05 509.27 L143.55 511.64 L145.04 514.01 L146.54 516.37 L148.04 518.74 L149.54 521.10 L151.03 523.45 L152.53 525.80 L154.03 528.15 L155.53 530.48 L157.02 532.81 L158.52 535.13 L160.02 537.45 L161.52 539.75 L163.01 542.03 L164.51 544.31 L166.01 546.57 L167.50 548.82 L169.00 551.06 L170.50 553.28 L172.00 555.48 L173.49 557.66 L174.99 559.83 L176.49 561.97 L177.99 564.10 L179.48 566.20 L180.98 568.29 L182.48 570.35 L183.98 572.39 L185.47 574.40 L186.97 576.38 L188.47 578.35 L189.97 580.28 L191.46 582.18 L192.96 584.06 L194.46 585.91 L195.96 587.72 L197.45 589.51 L198.95 591.26 L200.45 592.98 L201.94 594.67 L203.44 596.33 L204.94 597.95 L206.44 599.55 L207.93 601.11 L209.43 602.64 L210.93 604.15 L212.43 605.62 L213.92 607.07 L215.42 608.48 L216.92 609.87 L218.42 611.23 L219.91 612.56 L221.41 613.86 L222.91 615.14 L224.41 616.39 L225.90 617.61 L227.40 618.81 L228.90 619.98 L230.40 621.12 L231.89 622.24 L233.39 623.33 L234.89 624.40 L236.38 625.45 L237.88 626.47 L239.38 627.46 L240.88 628.44 L242.37 629.39 L243.87 630.31 L245.37 631.22 L246.87 632.10 L248.36 632.96 L249.86 633.80 L251.36 634.61 L252.86 635.41 L254.35 636.18 L255.85 636.94 L257.35 637.67 L258.85 638.39 L260.34 639.09 L261.84 639.76 L263.34 640.42 L264.84 641.06 L266.33 641.68 L267.83 642.29 L269.33 642.88 L270.82 643.45 L272.32 644.00 L273.82 644.54 L275.32 645.06 L276.81 645.56 L278.31 646.05 L279.81 646.52 L281.31 646.98 L282.80 647.43 L284.30 647.86 L285.80 648.27 L287.30 648.68 L288.79 649.07 L290.29 649.44 L291.79 649.81 L293.29 650.16 L294.78 650.50 L296.28 650.83 L297.78 651.15 L299.28 651.45 L300.77 651.75 L302.27 652.03 L303.77 652.31 L305.27 652.57 L306.76 652.83 L308.26 653.08 L309.76 653.31 L311.25 653.54 L312.75 653.76 L314.25 653.98 L315.75 654.18 L317.24 654.38 L318.74 654.58 L320.24 654.76 L321.74 654.94 L323.23 655.12 L324.73 655.28 L326.23 655.45 L327.73 655.60 L329.22 655.76 L330.72 655.91 L332.22 656.05 L333.72 656.19 L335.21 656.33 L336.71 656.47 L338.21 656.60 L339.71 656.73 L341.20 656.86 L342.70 656.99" fill="none" stroke="#000" stroke-width="2.0"/>
<path d="M55.20 433.89 L56.70 434.42 L58.19 435.01 L59.69 435.64 L61.19 436.32 L62.69 437.05 L64.18 437.83 L65.68 438.65 L67.18 439.52 L68.68 440.44 L70.17 441.41 L71.67 442.42 L73.17 443.47 L74.67 444.57 L76.16 445.71 L77.66 446.90 L79.16 448.12 L80.66 449.39 L82.15 450.71 L83.65 452.06 L85.15 453.45 L86.65 454.89 L88.14 456.36 L89.64 457.87 L91.14 459.42 L92.63 461.01 L94.13 462.64 L95.63 464.31 L97.13 466.01 L98.62 467.74 L100.12 469.52 L101.62 471.33 L103.12 473.17 L104.61 475.05 L106.11 476.96 L107.61 478.90 L109.11 480.88 L110.60 482.88 L112.10 484.92 L113.60 486.99 L115.10 489.10 L116.59 491.23 L118.09 493.39 L119.59 495.58 L121.09 497.79 L122.58 500.04 L124.08 502.30 L125.58 504.59 L127.08 506.90 L128.57 509.22 L130.07 511.55 L131.57 513.90 L133.06 516.26 L134.56 518.62 L136.06 520.99 L137.56 523.36 L139.05 525.74 L140.55 528.11 L142.05 530.48 L143.55 532.84 L145.04 535.19 L146.54 537.53 L148.04 539.86 L149.54 542.18 L151.03 544.47 L152.53 546.75 L154.03 549.01 L155.53 551.24 L157.02 553.46 L158.52 555.65 L160.02 557.82 L161.52 559.97 L163.01 562.09 L164.51 564.20 L166.01 566.28 L167.50 568.34 L169.00 570.37 L170.50 572.39 L172.00 574.38 L173.49 576.34 L174.99 578.28 L176.49 580.20 L177.99 582.09 L179.48 583.96 L180.98 585.81 L182.48 587.63 L183.98 589.42 L185.47 591.19 L186.97 592.94 L188.47 594.66 L189.97 596.35 L191.46 598.02 L192.96 599.66 L194.46 601.27 L195.96 602.86 L197.45 604.42 L198.95 605.95 L200.45 607.46 L201.94 608.94 L203.44 610.39 L204.94 611.81 L206.44 613.20 L207.93 614.57 L209.43 615.91 L210.93 617.22 L212.43 618.50 L213.92 619.75 L215.42 620.97 L216.92 622.17 L218.42 623.33 L219.91 624.47 L221.41 625.58 L222.91 626.67 L224.41 627.73 L225.90 628.76 L227.40 629.76 L228.90 630.74 L230.40 631.70 L231.89 632.63 L233.39 633.53 L234.89 634.41 L236.38 635.27 L237.88 636.10 L239.38 636.91 L240.88 637.70 L242.37 638.47 L243.87 639.21 L245.37 639.93 L246.87 640.64 L248.36 641.32 L249.86 641.98 L251.36 642.62 L252.86 643.23 L254.35 643.84 L255.85 644.42 L257.35 644.98 L258.85 645.52 L260.34 646.05 L261.84 646.56 L263.34 647.05 L264.84 647.52 L266.33 647.98 L267.83 648.42 L269.33 648.85 L270.82 649.26 L272.32 649.66 L273.82 650.04 L275.32 650.40 L276.81 650.75 L278.31 651.09 L279.81 651.42 L281.31 651.73 L282.80 652.03 L284.30 652.32 L285.80 652.59 L287.30 652.86 L288.79 653.11 L290.29 653.35 L291.79 653.59 L293.29 653.81 L294.78 654.02 L296.28 654.22 L297.78 654.42 L299.28 654.60 L300.77 654.78 L302.27 654.95 L303.77 655.11 L305.27 655.27 L306.76 655.41 L308.26 655.55 L309.76 655.69 L311.25 655.82 L312.75 655.94 L314.25 656.06 L315.75 656.18 L317.24 656.29 L318.74 656.39 L320.24 656.50 L321.74 656.60 L323.23 656.69 L324.73 656.79 L326.23 656.88 L327.73 656.97 L329.22 657.06 L330.72 657.15 L332.22 657.24 L333.72 657.32 L335.21 657.41 L336.71 657.50 L338.21 657.59 L339.71 657.68 L341.20 657.77 L342.70 657.86" fill="none" stroke="#f70000" stroke-width="2.0"/>
<path d="M55.20 461.27 L56.70 461.63 L58.19 462.01 L59.69 462.42 L61.19 462.86 L62.69 463.33 L64.18 463.82 L65.68 464.35 L67.18 464.91 L68.68 465.51 L70.17 466.14 L71.67 466.81 L73.17 467.52 L74.67 468.27 L76.16 469.06 L77.66 469.89 L79.16 470.77 L80.66 471.69 L82.15 472.67 L83.65 473.69 L85.15 474.76 L86.65 475.89 L88.14 477.06 L89.64 478.30 L91.14 479.59 L92.63 480.94 L94.13 482.34 L95.63 483.81 L97.13 485.34 L98.62 486.92 L100.12 488.56 L101.62 490.25 L103.12 491.99 L104.61 493.77 L106.11 495.60 L107.61 497.48 L109.11 499.39 L110.60 501.34 L112.10 503.33 L113.60 505.35 L115.10 507.40 L116.59 509.48 L118.09 511.58 L119.59 513.71 L121.09 515.86 L122.58 518.03 L124.08 520.21 L125.58 522.41 L127.08 524.62 L128.57 526.84 L130.07 529.07 L131.57 531.30 L133.06 533.53 L134.56 535.77 L136.06 538.00 L137.56 540.24 L139.05 542.47 L140.55 544.70 L142.05 546.93 L143.55 549.15 L145.04 551.36 L146.54 553.57 L148.04 555.77 L149.54 557.96 L151.03 560.13 L152.53 562.30 L154.03 564.45 L155.53 566.59 L157.02 568.71 L158.52 570.81 L160.02 572.89 L161.52 574.96 L163.01 577.00 L164.51 579.02 L166.01 581.02 L167.50 583.00 L169.00 584.95 L170.50 586.87 L172.00 588.77 L173.49 590.63 L174.99 592.47 L176.49 594.27 L177.99 596.05 L179.48 597.79 L180.98 599.49 L182.48 601.16 L183.98 602.79 L185.47 604.38 L186.97 605.93 L188.47 607.44 L189.97 608.92 L191.46 610.35 L192.96 611.75 L194.46 613.11 L195.96 614.43 L197.45 615.73 L198.95 616.99 L200.45 618.22 L201.94 619.41 L203.44 620.58 L204.94 621.72 L206.44 622.84 L207.93 623.93 L209.43 624.99 L210.93 626.03 L212.43 627.05 L213.92 628.05 L215.42 629.02 L216.92 629.98 L218.42 630.91 L219.91 631.83 L221.41 632.73 L222.91 633.60 L224.41 634.46 L225.90 635.30 L227.40 636.12 L228.90 636.92 L230.40 637.70 L231.89 638.46 L233.39 639.20 L234.89 639.93 L236.38 640.64 L237.88 641.33 L239.38 642.00 L240.88 642.66 L242.37 643.30 L243.87 643.92 L245.37 644.53 L246.87 645.11 L248.36 645.69 L249.86 646.24 L251.36 646.79 L252.86 647.31 L254.35 647.82 L255.85 648.32 L257.35 648.80 L258.85 649.26 L260.34 649.71 L261.84 650.15 L263.34 650.57 L264.84 650.98 L266.33 651.38 L267.83 651.76 L269.33 652.13 L270.82 652.48 L272.32 652.82 L273.82 653.15 L275.32 653.47 L276.81 653.77 L278.31 654.07 L279.81 654.35 L281.31 654.62 L282.80 654.87 L284.30 655.12 L285.80 655.36 L287.30 655.58 L288.79 655.79 L290.29 656.00 L291.79 656.19 L293.29 656.37 L294.78 656.55 L296.28 656.71 L297.78 656.86 L299.28 657.01 L300.77 657.14 L302.27 657.27 L303.77 657.39 L305.27 657.50 L306.76 657.60 L308.26 657.69 L309.76 657.78 L311.25 657.86 L312.75 657.93 L314.25 657.99 L315.75 658.05 L317.24 658.10 L318.74 658.14 L320.24 658.18 L321.74 658.21 L323.23 658.24 L324.73 658.26 L326.23 658.27 L327.73 658.28 L329.22 658.28 L330.72 658.28 L332.22 658.28 L333.72 658.28 L335.21 658.28 L336.71 658.28 L338.21 658.28 L339.71 658.28 L341.20 658.28 L342.70 658.28" fill="none" stroke="#0000f5" stroke-width="2.0"/>
<line x1="459.7" y1="622.7" x2="751.4" y2="622.7" stroke="#cbcbcb" stroke-width="1" stroke-dasharray="2.6,2.0"/>
<line x1="459.7" y1="584.5" x2="751.4" y2="584.5" stroke="#cbcbcb" stroke-width="1" stroke-dasharray="2.6,2.0"/>
<line x1="459.7" y1="546.5" x2="751.4" y2="546.5" stroke="#cbcbcb" stroke-width="1" stroke-dasharray="2.6,2.0"/>
<line x1="459.7" y1="508.6" x2="751.4" y2="508.6" stroke="#cbcbcb" stroke-width="1" stroke-dasharray="2.6,2.0"/>
<line x1="459.7" y1="470.5" x2="751.4" y2="470.5" stroke="#cbcbcb" stroke-width="1" stroke-dasharray="2.6,2.0"/>
<line x1="459.7" y1="433.3" x2="751.4" y2="433.3" stroke="#cbcbcb" stroke-width="1" stroke-dasharray="2.6,2.0"/>
<line x1="459.7" y1="395.3" x2="751.4" y2="395.3" stroke="#cbcbcb" stroke-width="1" stroke-dasharray="2.6,2.0"/>
<line x1="529.5" y1="389.7" x2="529.5" y2="659.5" stroke="#d0d0d0" stroke-width="1" stroke-dasharray="3.7,3.2"/>
<line x1="601.5" y1="389.7" x2="601.5" y2="659.5" stroke="#d0d0d0" stroke-width="1" stroke-dasharray="3.7,3.2"/>
<line x1="673.5" y1="389.7" x2="673.5" y2="659.5" stroke="#d0d0d0" stroke-width="1" stroke-dasharray="3.7,3.2"/>
<line x1="745.4" y1="389.7" x2="745.4" y2="659.5" stroke="#d0d0d0" stroke-width="1" stroke-dasharray="3.7,3.2"/>
<line x1="452.2" y1="660.5" x2="751.4" y2="660.5" stroke="#404040" stroke-width="1.3"/>
<line x1="457.7" y1="389.7" x2="457.7" y2="669.2" stroke="#555" stroke-width="1.15"/>
<line x1="457.7" y1="652.7" x2="460.0" y2="652.7" stroke="#404040" stroke-width="1"/>
<line x1="457.7" y1="645.2" x2="460.0" y2="645.2" stroke="#404040" stroke-width="1"/>
<line x1="457.7" y1="637.7" x2="460.0" y2="637.7" stroke="#404040" stroke-width="1"/>
<line x1="457.7" y1="630.2" x2="460.0" y2="630.2" stroke="#404040" stroke-width="1"/>
<line x1="457.7" y1="622.7" x2="461.2" y2="622.7" stroke="#404040" stroke-width="1"/>
<line x1="457.7" y1="615.1" x2="460.0" y2="615.1" stroke="#404040" stroke-width="1"/>
<line x1="457.7" y1="607.4" x2="460.0" y2="607.4" stroke="#404040" stroke-width="1"/>
<line x1="457.7" y1="599.8" x2="460.0" y2="599.8" stroke="#404040" stroke-width="1"/>
<line x1="457.7" y1="592.1" x2="460.0" y2="592.1" stroke="#404040" stroke-width="1"/>
<line x1="457.7" y1="584.5" x2="461.2" y2="584.5" stroke="#404040" stroke-width="1"/>
<line x1="457.7" y1="576.9" x2="460.0" y2="576.9" stroke="#404040" stroke-width="1"/>
<line x1="457.7" y1="569.3" x2="460.0" y2="569.3" stroke="#404040" stroke-width="1"/>
<line x1="457.7" y1="561.7" x2="460.0" y2="561.7" stroke="#404040" stroke-width="1"/>
<line x1="457.7" y1="554.1" x2="460.0" y2="554.1" stroke="#404040" stroke-width="1"/>
<line x1="457.7" y1="546.5" x2="461.2" y2="546.5" stroke="#404040" stroke-width="1"/>
<line x1="457.7" y1="538.9" x2="460.0" y2="538.9" stroke="#404040" stroke-width="1"/>
<line x1="457.7" y1="531.3" x2="460.0" y2="531.3" stroke="#404040" stroke-width="1"/>
<line x1="457.7" y1="523.8" x2="460.0" y2="523.8" stroke="#404040" stroke-width="1"/>
<line x1="457.7" y1="516.2" x2="460.0" y2="516.2" stroke="#404040" stroke-width="1"/>
<line x1="457.7" y1="508.6" x2="461.2" y2="508.6" stroke="#404040" stroke-width="1"/>
<line x1="457.7" y1="501.0" x2="460.0" y2="501.0" stroke="#404040" stroke-width="1"/>
<line x1="457.7" y1="493.4" x2="460.0" y2="493.4" stroke="#404040" stroke-width="1"/>
<line x1="457.7" y1="485.7" x2="460.0" y2="485.7" stroke="#404040" stroke-width="1"/>
<line x1="457.7" y1="478.1" x2="460.0" y2="478.1" stroke="#404040" stroke-width="1"/>
<line x1="457.7" y1="470.5" x2="461.2" y2="470.5" stroke="#404040" stroke-width="1"/>
<line x1="457.7" y1="463.1" x2="460.0" y2="463.1" stroke="#404040" stroke-width="1"/>
<line x1="457.7" y1="455.6" x2="460.0" y2="455.6" stroke="#404040" stroke-width="1"/>
<line x1="457.7" y1="448.2" x2="460.0" y2="448.2" stroke="#404040" stroke-width="1"/>
<line x1="457.7" y1="440.7" x2="460.0" y2="440.7" stroke="#404040" stroke-width="1"/>
<line x1="457.7" y1="433.3" x2="461.2" y2="433.3" stroke="#404040" stroke-width="1"/>
<line x1="457.7" y1="425.7" x2="460.0" y2="425.7" stroke="#404040" stroke-width="1"/>
<line x1="457.7" y1="418.1" x2="460.0" y2="418.1" stroke="#404040" stroke-width="1"/>
<line x1="457.7" y1="410.5" x2="460.0" y2="410.5" stroke="#404040" stroke-width="1"/>
<line x1="457.7" y1="402.9" x2="460.0" y2="402.9" stroke="#404040" stroke-width="1"/>
<line x1="457.7" y1="395.3" x2="461.2" y2="395.3" stroke="#404040" stroke-width="1"/>
<line x1="472.1" y1="660.2" x2="472.1" y2="657.9" stroke="#404040" stroke-width="1"/>
<line x1="486.4" y1="660.2" x2="486.4" y2="657.9" stroke="#404040" stroke-width="1"/>
<line x1="500.8" y1="660.2" x2="500.8" y2="657.9" stroke="#404040" stroke-width="1"/>
<line x1="515.1" y1="660.2" x2="515.1" y2="657.9" stroke="#404040" stroke-width="1"/>
<line x1="529.5" y1="660.2" x2="529.5" y2="656.7" stroke="#404040" stroke-width="1"/>
<line x1="543.9" y1="660.2" x2="543.9" y2="657.9" stroke="#404040" stroke-width="1"/>
<line x1="558.3" y1="660.2" x2="558.3" y2="657.9" stroke="#404040" stroke-width="1"/>
<line x1="572.7" y1="660.2" x2="572.7" y2="657.9" stroke="#404040" stroke-width="1"/>
<line x1="587.1" y1="660.2" x2="587.1" y2="657.9" stroke="#404040" stroke-width="1"/>
<line x1="601.5" y1="660.2" x2="601.5" y2="656.7" stroke="#404040" stroke-width="1"/>
<line x1="615.9" y1="660.2" x2="615.9" y2="657.9" stroke="#404040" stroke-width="1"/>
<line x1="630.3" y1="660.2" x2="630.3" y2="657.9" stroke="#404040" stroke-width="1"/>
<line x1="644.7" y1="660.2" x2="644.7" y2="657.9" stroke="#404040" stroke-width="1"/>
<line x1="659.1" y1="660.2" x2="659.1" y2="657.9" stroke="#404040" stroke-width="1"/>
<line x1="673.5" y1="660.2" x2="673.5" y2="656.7" stroke="#404040" stroke-width="1"/>
<line x1="687.9" y1="660.2" x2="687.9" y2="657.9" stroke="#404040" stroke-width="1"/>
<line x1="702.3" y1="660.2" x2="702.3" y2="657.9" stroke="#404040" stroke-width="1"/>
<line x1="716.6" y1="660.2" x2="716.6" y2="657.9" stroke="#404040" stroke-width="1"/>
<line x1="731.0" y1="660.2" x2="731.0" y2="657.9" stroke="#404040" stroke-width="1"/>
<line x1="745.4" y1="660.2" x2="745.4" y2="656.7" stroke="#404040" stroke-width="1"/>
<text transform="translate(455.80,628.86) scale(0.680,1)" style="font-family:'Liberation Serif',serif;font-size:18.80px" fill="#111" stroke="#111" stroke-width="0.2" text-anchor="end">0.1</text>
<text transform="translate(455.80,590.66) scale(0.680,1)" style="font-family:'Liberation Serif',serif;font-size:18.80px" fill="#111" stroke="#111" stroke-width="0.2" text-anchor="end">0.2</text>
<text transform="translate(455.80,552.66) scale(0.680,1)" style="font-family:'Liberation Serif',serif;font-size:18.80px" fill="#111" stroke="#111" stroke-width="0.2" text-anchor="end">0.3</text>
<text transform="translate(455.80,514.76) scale(0.680,1)" style="font-family:'Liberation Serif',serif;font-size:18.80px" fill="#111" stroke="#111" stroke-width="0.2" text-anchor="end">0.4</text>
<text transform="translate(455.80,476.66) scale(0.680,1)" style="font-family:'Liberation Serif',serif;font-size:18.80px" fill="#111" stroke="#111" stroke-width="0.2" text-anchor="end">0.5</text>
<text transform="translate(455.80,439.46) scale(0.680,1)" style="font-family:'Liberation Serif',serif;font-size:18.80px" fill="#111" stroke="#111" stroke-width="0.2" text-anchor="end">0.6</text>
<text transform="translate(455.80,401.46) scale(0.680,1)" style="font-family:'Liberation Serif',serif;font-size:18.80px" fill="#111" stroke="#111" stroke-width="0.2" text-anchor="end">0.7</text>
<text transform="translate(529.50,680.46) scale(0.680,1)" style="font-family:'Liberation Serif',serif;font-size:18.80px" fill="#111" stroke="#111" stroke-width="0.2" text-anchor="middle">1</text>
<text transform="translate(601.50,680.46) scale(0.680,1)" style="font-family:'Liberation Serif',serif;font-size:18.80px" fill="#111" stroke="#111" stroke-width="0.2" text-anchor="middle">2</text>
<text transform="translate(673.50,680.46) scale(0.680,1)" style="font-family:'Liberation Serif',serif;font-size:18.80px" fill="#111" stroke="#111" stroke-width="0.2" text-anchor="middle">3</text>
<text transform="translate(745.40,680.46) scale(0.680,1)" style="font-family:'Liberation Serif',serif;font-size:18.80px" fill="#111" stroke="#111" stroke-width="0.2" text-anchor="middle">4</text>
<text transform="translate(756.02,666.20) scale(0.679,1)" style="font-family:'Liberation Serif',serif;font-style:italic;font-size:20.00px" fill="#111">η</text>
<path d="M457.70 575.68 L459.20 574.41 L460.70 573.05 L462.20 571.61 L463.69 570.08 L465.19 568.47 L466.69 566.78 L468.19 565.00 L469.69 563.15 L471.19 561.22 L472.68 559.20 L474.18 557.11 L475.68 554.94 L477.18 552.70 L478.68 550.38 L480.18 547.99 L481.68 545.52 L483.17 542.98 L484.67 540.37 L486.17 537.69 L487.67 534.94 L489.17 532.11 L490.67 529.19 L492.16 526.19 L493.66 523.09 L495.16 519.90 L496.66 516.61 L498.16 513.21 L499.66 509.70 L501.15 506.12 L502.65 502.47 L504.15 498.80 L505.65 495.13 L507.15 491.48 L508.65 487.89 L510.15 484.38 L511.64 480.98 L513.14 477.72 L514.64 474.62 L516.14 471.72 L517.64 469.03 L519.14 466.60 L520.63 464.43 L522.13 462.58 L523.63 461.05 L525.13 459.88 L526.63 459.10 L528.13 458.73 L529.62 458.80 L531.12 459.33 L532.62 460.30 L534.12 461.70 L535.62 463.51 L537.12 465.71 L538.62 468.28 L540.11 471.21 L541.61 474.47 L543.11 478.06 L544.61 481.94 L546.11 486.11 L547.61 490.55 L549.10 495.21 L550.60 500.03 L552.10 504.96 L553.60 509.95 L555.10 514.95 L556.60 519.94 L558.10 524.92 L559.59 529.87 L561.09 534.77 L562.59 539.60 L564.09 544.35 L565.59 549.01 L567.09 553.55 L568.58 557.94 L570.08 562.17 L571.58 566.26 L573.08 570.23 L574.58 574.10 L576.08 577.89 L577.57 581.61 L579.07 585.28 L580.57 588.91 L582.07 592.49 L583.57 595.99 L585.07 599.40 L586.57 602.69 L588.06 605.85 L589.56 608.86 L591.06 611.70 L592.56 614.36 L594.06 616.86 L595.56 619.21 L597.05 621.41 L598.55 623.47 L600.05 625.40 L601.55 627.21 L603.05 628.91 L604.55 630.50 L606.05 631.99 L607.54 633.39 L609.04 634.71 L610.54 635.96 L612.04 637.15 L613.54 638.26 L615.04 639.32 L616.53 640.31 L618.03 641.24 L619.53 642.12 L621.03 642.95 L622.53 643.73 L624.03 644.45 L625.52 645.14 L627.02 645.78 L628.52 646.38 L630.02 646.94 L631.52 647.46 L633.02 647.95 L634.52 648.41 L636.01 648.85 L637.51 649.26 L639.01 649.64 L640.51 650.00 L642.01 650.35 L643.51 650.68 L645.00 651.00 L646.50 651.30 L648.00 651.60 L649.50 651.89 L651.00 652.18 L652.50 652.47 L654.00 652.75 L655.49 653.03 L656.99 653.31 L658.49 653.58 L659.99 653.85 L661.49 654.12 L662.99 654.38 L664.48 654.64 L665.98 654.90 L667.48 655.15 L668.98 655.40 L670.48 655.64 L671.98 655.88 L673.47 656.12 L674.97 656.35 L676.47 656.57 L677.97 656.79 L679.47 657.01 L680.97 657.22 L682.47 657.42 L683.96 657.62 L685.46 657.81 L686.96 658.00 L688.46 658.18 L689.96 658.36 L691.46 658.52 L692.95 658.69 L694.45 658.84 L695.95 658.99 L697.45 659.13 L698.95 659.27 L700.45 659.40 L701.95 659.52 L703.44 659.63 L704.94 659.73 L706.44 659.83 L707.94 659.92 L709.44 660.00 L710.94 660.08 L712.43 660.14 L713.93 660.20 L715.43 660.25 L716.93 660.29 L718.43 660.32 L719.93 660.34 L721.42 660.35 L722.92 660.35 L724.42 660.35 L725.92 660.35 L727.42 660.35 L728.92 660.35 L730.42 660.35 L731.91 660.35 L733.41 660.35 L734.91 660.35 L736.41 660.35 L737.91 660.35 L739.41 660.35 L740.90 660.35 L742.40 660.35 L743.90 660.35 L745.40 660.35" fill="none" stroke="#0000f5" stroke-width="2.0"/>
<path d="M457.70 577.46 L459.20 576.04 L460.70 574.60 L462.20 573.15 L463.69 571.67 L465.19 570.17 L466.69 568.64 L468.19 567.08 L469.69 565.49 L471.19 563.85 L472.68 562.16 L474.18 560.42 L475.68 558.63 L477.18 556.79 L478.68 554.88 L480.18 552.90 L481.68 550.86 L483.17 548.73 L484.67 546.53 L486.17 544.25 L487.67 541.89 L489.17 539.48 L490.67 537.01 L492.16 534.50 L493.66 531.97 L495.16 529.42 L496.66 526.88 L498.16 524.34 L499.66 521.83 L501.15 519.36 L502.65 516.93 L504.15 514.56 L505.65 512.27 L507.15 510.06 L508.65 507.95 L510.15 505.95 L511.64 504.07 L513.14 502.32 L514.64 500.73 L516.14 499.29 L517.64 498.02 L519.14 496.94 L520.63 496.05 L522.13 495.37 L523.63 494.92 L525.13 494.70 L526.63 494.73 L528.13 495.01 L529.62 495.57 L531.12 496.42 L532.62 497.56 L534.12 499.01 L535.62 500.79 L537.12 502.87 L538.62 505.24 L540.11 507.87 L541.61 510.74 L543.11 513.82 L544.61 517.09 L546.11 520.52 L547.61 524.09 L549.10 527.78 L550.60 531.56 L552.10 535.40 L553.60 539.29 L555.10 543.19 L556.60 547.09 L558.10 550.96 L559.59 554.81 L561.09 558.63 L562.59 562.40 L564.09 566.13 L565.59 569.81 L567.09 573.43 L568.58 576.98 L570.08 580.45 L571.58 583.85 L573.08 587.17 L574.58 590.39 L576.08 593.52 L577.57 596.54 L579.07 599.45 L580.57 602.24 L582.07 604.91 L583.57 607.46 L585.07 609.90 L586.57 612.24 L588.06 614.46 L589.56 616.58 L591.06 618.61 L592.56 620.54 L594.06 622.38 L595.56 624.13 L597.05 625.80 L598.55 627.38 L600.05 628.90 L601.55 630.33 L603.05 631.70 L604.55 633.01 L606.05 634.25 L607.54 635.43 L609.04 636.57 L610.54 637.65 L612.04 638.68 L613.54 639.66 L615.04 640.60 L616.53 641.50 L618.03 642.35 L619.53 643.17 L621.03 643.94 L622.53 644.67 L624.03 645.37 L625.52 646.04 L627.02 646.67 L628.52 647.26 L630.02 647.83 L631.52 648.37 L633.02 648.88 L634.52 649.36 L636.01 649.82 L637.51 650.26 L639.01 650.67 L640.51 651.06 L642.01 651.44 L643.51 651.79 L645.00 652.13 L646.50 652.46 L648.00 652.77 L649.50 653.07 L651.00 653.36 L652.50 653.64 L654.00 653.91 L655.49 654.17 L656.99 654.42 L658.49 654.66 L659.99 654.90 L661.49 655.12 L662.99 655.34 L664.48 655.55 L665.98 655.75 L667.48 655.94 L668.98 656.12 L670.48 656.30 L671.98 656.47 L673.47 656.63 L674.97 656.78 L676.47 656.93 L677.97 657.07 L679.47 657.21 L680.97 657.33 L682.47 657.46 L683.96 657.57 L685.46 657.68 L686.96 657.79 L688.46 657.88 L689.96 657.98 L691.46 658.07 L692.95 658.15 L694.45 658.23 L695.95 658.30 L697.45 658.37 L698.95 658.43 L700.45 658.50 L701.95 658.55 L703.44 658.61 L704.94 658.66 L706.44 658.70 L707.94 658.74 L709.44 658.78 L710.94 658.82 L712.43 658.86 L713.93 658.89 L715.43 658.92 L716.93 658.95 L718.43 658.97 L719.93 659.00 L721.42 659.02 L722.92 659.04 L724.42 659.06 L725.92 659.08 L727.42 659.09 L728.92 659.11 L730.42 659.13 L731.91 659.14 L733.41 659.16 L734.91 659.18 L736.41 659.19 L737.91 659.21 L739.41 659.23 L740.90 659.24 L742.40 659.26 L743.90 659.28 L745.40 659.30" fill="none" stroke="#f70000" stroke-width="2.0"/>
<path d="M457.70 578.74 L459.20 578.04 L460.70 577.21 L462.20 576.26 L463.69 575.19 L465.19 574.01 L466.69 572.72 L468.19 571.34 L469.69 569.86 L471.19 568.31 L472.68 566.68 L474.18 564.98 L475.68 563.22 L477.18 561.40 L478.68 559.54 L480.18 557.63 L481.68 555.70 L483.17 553.73 L484.67 551.75 L486.17 549.76 L487.67 547.76 L489.17 545.76 L490.67 543.77 L492.16 541.80 L493.66 539.85 L495.16 537.93 L496.66 536.05 L498.16 534.22 L499.66 532.43 L501.15 530.70 L502.65 529.04 L504.15 527.45 L505.65 525.94 L507.15 524.52 L508.65 523.19 L510.15 521.97 L511.64 520.85 L513.14 519.84 L514.64 518.96 L516.14 518.22 L517.64 517.61 L519.14 517.16 L520.63 516.87 L522.13 516.75 L523.63 516.81 L525.13 517.06 L526.63 517.50 L528.13 518.16 L529.62 519.03 L531.12 520.12 L532.62 521.42 L534.12 522.94 L535.62 524.67 L537.12 526.59 L538.62 528.71 L540.11 531.01 L541.61 533.49 L543.11 536.14 L544.61 538.96 L546.11 541.92 L547.61 545.00 L549.10 548.17 L550.60 551.41 L552.10 554.67 L553.60 557.96 L555.10 561.24 L556.60 564.52 L558.10 567.79 L559.59 571.04 L561.09 574.26 L562.59 577.45 L564.09 580.60 L565.59 583.69 L567.09 586.73 L568.58 589.71 L570.08 592.61 L571.58 595.43 L573.08 598.17 L574.58 600.81 L576.08 603.35 L577.57 605.79 L579.07 608.12 L580.57 610.35 L582.07 612.48 L583.57 614.52 L585.07 616.46 L586.57 618.33 L588.06 620.10 L589.56 621.80 L591.06 623.43 L592.56 624.97 L594.06 626.45 L595.56 627.87 L597.05 629.22 L598.55 630.51 L600.05 631.74 L601.55 632.93 L603.05 634.06 L604.55 635.15 L606.05 636.19 L607.54 637.20 L609.04 638.17 L610.54 639.11 L612.04 640.02 L613.54 640.90 L615.04 641.75 L616.53 642.58 L618.03 643.37 L619.53 644.14 L621.03 644.88 L622.53 645.59 L624.03 646.27 L625.52 646.93 L627.02 647.57 L628.52 648.18 L630.02 648.76 L631.52 649.32 L633.02 649.86 L634.52 650.38 L636.01 650.87 L637.51 651.34 L639.01 651.79 L640.51 652.22 L642.01 652.62 L643.51 653.01 L645.00 653.38 L646.50 653.73 L648.00 654.06 L649.50 654.37 L651.00 654.67 L652.50 654.95 L654.00 655.21 L655.49 655.46 L656.99 655.69 L658.49 655.90 L659.99 656.10 L661.49 656.29 L662.99 656.47 L664.48 656.63 L665.98 656.77 L667.48 656.91 L668.98 657.03 L670.48 657.15 L671.98 657.25 L673.47 657.34 L674.97 657.43 L676.47 657.50 L677.97 657.56 L679.47 657.62 L680.97 657.67 L682.47 657.71 L683.96 657.75 L685.46 657.78 L686.96 657.80 L688.46 657.82 L689.96 657.83 L691.46 657.84 L692.95 657.85 L694.45 657.85 L695.95 657.85 L697.45 657.85 L698.95 657.85 L700.45 657.85 L701.95 657.85 L703.44 657.85 L704.94 657.85 L706.44 657.85 L707.94 657.85 L709.44 657.85 L710.94 657.85 L712.43 657.85 L713.93 657.85 L715.43 657.85 L716.93 657.85 L718.43 657.86 L719.93 657.88 L721.42 657.91 L722.92 657.94 L724.42 657.98 L725.92 658.03 L727.42 658.09 L728.92 658.15 L730.42 658.23 L731.91 658.31 L733.41 658.40 L734.91 658.50 L736.41 658.61 L737.91 658.74 L739.41 658.87 L740.90 659.02 L742.40 659.18 L743.90 659.35 L745.40 659.53" fill="none" stroke="#000" stroke-width="2.0"/>
<path d="M457.70 491.69 L459.20 490.43 L460.70 489.07 L462.20 487.63 L463.69 486.10 L465.19 484.48 L466.69 482.78 L468.19 481.01 L469.69 479.16 L471.19 477.24 L472.68 475.26 L474.18 473.21 L475.68 471.10 L477.18 468.94 L478.68 466.73 L480.18 464.46 L481.68 462.15 L483.17 459.80 L484.67 457.41 L486.17 454.98 L487.67 452.52 L489.17 450.03 L490.67 447.52 L492.16 444.99 L493.66 442.44 L495.16 439.87 L496.66 437.30 L498.16 434.71 L499.66 432.12 L501.15 429.53 L502.65 426.95 L504.15 424.37 L505.65 421.80 L507.15 419.24 L508.65 416.71 L510.15 414.23 L511.64 411.84 L513.14 409.57 L514.64 407.46 L516.14 405.52 L517.64 403.80 L519.14 402.33 L520.63 401.14 L522.13 400.27 L523.63 399.73 L525.13 399.58 L526.63 399.83 L528.13 400.52 L529.62 401.68 L531.12 403.35 L532.62 405.55 L534.12 408.33 L535.62 411.70 L537.12 415.71 L538.62 420.38 L540.11 425.58 L541.61 431.08 L543.11 436.70 L544.61 443.18 L546.11 452.00 L547.61 463.28 L549.10 474.75 L550.60 484.33 L552.10 492.10 L553.60 498.84 L555.10 505.32 L556.60 512.28 L558.10 520.12 L559.59 528.51 L561.09 537.06 L562.59 545.37 L564.09 553.03 L565.59 559.65 L567.09 565.37 L568.58 571.27 L570.08 577.79 L571.58 584.66 L573.08 591.58 L574.58 598.27 L576.08 604.43 L577.57 609.85 L579.07 614.61 L580.57 618.76 L582.07 622.41 L583.57 625.63 L585.07 628.51 L586.57 631.13 L588.06 633.56 L589.56 635.85 L591.06 638.00 L592.56 640.02 L594.06 641.90 L595.56 643.67 L597.05 645.33 L598.55 646.87 L600.05 648.31 L601.55 649.64 L603.05 650.88 L604.55 652.02 L606.05 653.07 L607.54 654.03 L609.04 654.90 L610.54 655.69 L612.04 656.41 L613.54 657.05 L615.04 657.62 L616.53 658.13 L618.03 658.57 L619.53 658.95 L621.03 659.27 L622.53 659.54 L624.03 659.77 L625.52 659.94 L627.02 660.08 L628.52 660.17 L630.02 660.23 L631.52 660.26 L633.02 660.26 L634.52 660.24 L636.01 660.20 L637.51 660.14 L639.01 660.06 L640.51 659.98 L642.01 659.89 L643.51 659.80 L645.00 659.70 L646.50 659.60 L648.00 659.50 L649.50 659.39 L651.00 659.29 L652.50 659.18 L654.00 659.07 L655.49 658.96 L656.99 658.85 L658.49 658.73 L659.99 658.62 L661.49 658.50 L662.99 658.38 L664.48 658.26 L665.98 658.15 L667.48 658.03 L668.98 657.91 L670.48 657.79 L671.98 657.67 L673.47 657.55 L674.97 657.43 L676.47 657.32 L677.97 657.20 L679.47 657.08 L680.97 656.97 L682.47 656.86 L683.96 656.74 L685.46 656.63 L686.96 656.52 L688.46 656.42 L689.96 656.31 L691.46 656.21 L692.95 656.11 L694.45 656.01 L695.95 655.91 L697.45 655.82 L698.95 655.73 L700.45 655.65 L701.95 655.56 L703.44 655.48 L704.94 655.41 L706.44 655.34 L707.94 655.27 L709.44 655.20 L710.94 655.14 L712.43 655.09 L713.93 655.04 L715.43 654.99 L716.93 654.95 L718.43 654.91 L719.93 654.88 L721.42 654.86 L722.92 654.84 L724.42 654.82 L725.92 654.81 L727.42 654.81 L728.92 654.81 L730.42 654.82 L731.91 654.84 L733.41 654.86 L734.91 654.89 L736.41 654.93 L737.91 654.97 L739.41 655.03 L740.90 655.08 L742.40 655.15 L743.90 655.22 L745.40 655.31" fill="none" stroke="#0000f5" stroke-width="2.0" stroke-dasharray="4.6,2.4"/>
<path d="M457.70 492.83 L459.20 491.80 L460.70 490.68 L462.20 489.47 L463.69 488.18 L465.19 486.81 L466.69 485.36 L468.19 483.84 L469.69 482.24 L471.19 480.58 L472.68 478.85 L474.18 477.05 L475.68 475.20 L477.18 473.29 L478.68 471.32 L480.18 469.30 L481.68 467.24 L483.17 465.12 L484.67 462.97 L486.17 460.77 L487.67 458.54 L489.17 456.27 L490.67 453.96 L492.16 451.63 L493.66 449.28 L495.16 446.90 L496.66 444.50 L498.16 442.08 L499.66 439.64 L501.15 437.20 L502.65 434.74 L504.15 432.28 L505.65 429.84 L507.15 427.43 L508.65 425.09 L510.15 422.84 L511.64 420.70 L513.14 418.71 L514.64 416.87 L516.14 415.22 L517.64 413.79 L519.14 412.60 L520.63 411.66 L522.13 411.02 L523.63 410.69 L525.13 410.69 L526.63 411.06 L528.13 411.81 L529.62 412.98 L531.12 414.58 L532.62 416.64 L534.12 419.19 L535.62 422.25 L537.12 425.85 L538.62 430.00 L540.11 434.74 L541.61 440.08 L543.11 446.04 L544.61 452.64 L546.11 459.79 L547.61 467.31 L549.10 475.02 L550.60 482.76 L552.10 490.50 L553.60 498.25 L555.10 506.02 L556.60 513.79 L558.10 521.54 L559.59 529.23 L561.09 536.85 L562.59 544.36 L564.09 551.72 L565.59 558.91 L567.09 565.90 L568.58 572.65 L570.08 579.18 L571.58 585.50 L573.08 591.64 L574.58 597.62 L576.08 603.48 L577.57 609.16 L579.07 614.48 L580.57 619.20 L582.07 623.13 L583.57 626.33 L585.07 629.01 L586.57 631.36 L588.06 633.58 L589.56 635.74 L591.06 637.82 L592.56 639.82 L594.06 641.72 L595.56 643.52 L597.05 645.20 L598.55 646.77 L600.05 648.24 L601.55 649.59 L603.05 650.85 L604.55 652.01 L606.05 653.07 L607.54 654.04 L609.04 654.93 L610.54 655.73 L612.04 656.46 L613.54 657.10 L615.04 657.68 L616.53 658.19 L618.03 658.63 L619.53 659.01 L621.03 659.34 L622.53 659.61 L624.03 659.83 L625.52 660.00 L627.02 660.13 L628.52 660.23 L630.02 660.28 L631.52 660.31 L633.02 660.30 L634.52 660.28 L636.01 660.23 L637.51 660.16 L639.01 660.08 L640.51 659.99 L642.01 659.90 L643.51 659.80 L645.00 659.70 L646.50 659.60 L648.00 659.49 L649.50 659.39 L651.00 659.28 L652.50 659.17 L654.00 659.05 L655.49 658.94 L656.99 658.83 L658.49 658.71 L659.99 658.59 L661.49 658.48 L662.99 658.36 L664.48 658.24 L665.98 658.12 L667.48 658.00 L668.98 657.89 L670.48 657.77 L671.98 657.65 L673.47 657.53 L674.97 657.41 L676.47 657.30 L677.97 657.18 L679.47 657.07 L680.97 656.96 L682.47 656.84 L683.96 656.73 L685.46 656.62 L686.96 656.52 L688.46 656.41 L689.96 656.31 L691.46 656.21 L692.95 656.11 L694.45 656.01 L695.95 655.92 L697.45 655.83 L698.95 655.74 L700.45 655.66 L701.95 655.57 L703.44 655.50 L704.94 655.42 L706.44 655.35 L707.94 655.28 L709.44 655.22 L710.94 655.16 L712.43 655.11 L713.93 655.06 L715.43 655.01 L716.93 654.97 L718.43 654.94 L719.93 654.90 L721.42 654.88 L722.92 654.86 L724.42 654.84 L725.92 654.83 L727.42 654.83 L728.92 654.83 L730.42 654.84 L731.91 654.86 L733.41 654.88 L734.91 654.90 L736.41 654.94 L737.91 654.98 L739.41 655.03 L740.90 655.08 L742.40 655.14 L743.90 655.21 L745.40 655.29" fill="none" stroke="#f70000" stroke-width="2.0" stroke-dasharray="4.6,2.4"/>
<path d="M457.70 494.54 L459.20 493.01 L460.70 491.56 L462.20 490.16 L463.69 488.80 L465.19 487.48 L466.69 486.19 L468.19 484.91 L469.69 483.63 L471.19 482.34 L472.68 481.02 L474.18 479.68 L475.68 478.30 L477.18 476.86 L478.68 475.36 L480.18 473.78 L481.68 472.11 L483.17 470.35 L484.67 468.48 L486.17 466.52 L487.67 464.47 L489.17 462.35 L490.67 460.17 L492.16 457.94 L493.66 455.67 L495.16 453.37 L496.66 451.06 L498.16 448.75 L499.66 446.44 L501.15 444.15 L502.65 441.89 L504.15 439.67 L505.65 437.51 L507.15 435.42 L508.65 433.40 L510.15 431.47 L511.64 429.65 L513.14 427.95 L514.64 426.41 L516.14 425.03 L517.64 423.84 L519.14 422.86 L520.63 422.10 L522.13 421.60 L523.63 421.36 L525.13 421.41 L526.63 421.76 L528.13 422.45 L529.62 423.48 L531.12 424.88 L532.62 426.66 L534.12 428.86 L535.62 431.48 L537.12 434.55 L538.62 438.09 L540.11 442.11 L541.61 446.64 L543.11 451.69 L544.61 457.23 L546.11 463.20 L547.61 469.56 L549.10 476.27 L550.60 483.29 L552.10 490.55 L553.60 498.03 L555.10 505.66 L556.60 513.41 L558.10 521.23 L559.59 529.04 L561.09 536.79 L562.59 544.41 L564.09 551.83 L565.59 559.00 L567.09 565.88 L568.58 572.55 L570.08 579.06 L571.58 585.48 L573.08 591.84 L574.58 598.03 L576.08 603.94 L577.57 609.44 L579.07 614.39 L580.57 618.74 L582.07 622.55 L583.57 625.87 L585.07 628.79 L586.57 631.38 L588.06 633.71 L589.56 635.86 L591.06 637.90 L592.56 639.85 L594.06 641.70 L595.56 643.47 L597.05 645.14 L598.55 646.71 L600.05 648.18 L601.55 649.55 L603.05 650.82 L604.55 651.99 L606.05 653.07 L607.54 654.05 L609.04 654.94 L610.54 655.76 L612.04 656.49 L613.54 657.14 L615.04 657.72 L616.53 658.23 L618.03 658.67 L619.53 659.06 L621.03 659.38 L622.53 659.65 L624.03 659.87 L625.52 660.04 L627.02 660.17 L628.52 660.26 L630.02 660.32 L631.52 660.34 L633.02 660.33 L634.52 660.30 L636.01 660.25 L637.51 660.18 L639.01 660.09 L640.51 660.00 L642.01 659.90 L643.51 659.80 L645.00 659.70 L646.50 659.59 L648.00 659.49 L649.50 659.38 L651.00 659.27 L652.50 659.15 L654.00 659.04 L655.49 658.93 L656.99 658.81 L658.49 658.69 L659.99 658.58 L661.49 658.46 L662.99 658.34 L664.48 658.22 L665.98 658.11 L667.48 657.99 L668.98 657.87 L670.48 657.75 L671.98 657.63 L673.47 657.52 L674.97 657.40 L676.47 657.28 L677.97 657.17 L679.47 657.06 L680.97 656.94 L682.47 656.83 L683.96 656.72 L685.46 656.62 L686.96 656.51 L688.46 656.41 L689.96 656.31 L691.46 656.21 L692.95 656.11 L694.45 656.01 L695.95 655.92 L697.45 655.83 L698.95 655.75 L700.45 655.66 L701.95 655.58 L703.44 655.51 L704.94 655.43 L706.44 655.36 L707.94 655.30 L709.44 655.24 L710.94 655.18 L712.43 655.12 L713.93 655.07 L715.43 655.03 L716.93 654.99 L718.43 654.95 L719.93 654.92 L721.42 654.90 L722.92 654.87 L724.42 654.86 L725.92 654.85 L727.42 654.85 L728.92 654.85 L730.42 654.85 L731.91 654.87 L733.41 654.89 L734.91 654.91 L736.41 654.94 L737.91 654.98 L739.41 655.03 L740.90 655.08 L742.40 655.14 L743.90 655.20 L745.40 655.28" fill="none" stroke="#000" stroke-width="2.0" stroke-dasharray="4.6,2.4"/>
<text transform="translate(0.61,14.81) scale(1.119,1)" style="font-family:'Liberation Serif',serif;font-weight:bold;font-size:18.57px" fill="#111">(a)</text>
<text transform="translate(406.04,15.26) scale(1.294,1)" style="font-family:'Liberation Serif',serif;font-weight:bold;font-size:16.48px" fill="#111">(b)</text>
<text transform="translate(0.61,375.87) scale(1.064,1)" style="font-family:'Liberation Serif',serif;font-weight:bold;font-size:19.67px" fill="#111">(c)</text>
<text transform="translate(406.06,376.38) scale(1.113,1)" style="font-family:'Liberation Serif',serif;font-weight:bold;font-size:18.68px" fill="#111">(d)</text>
<text transform="translate(35.63,19.26) scale(0.654,1)" style="font-family:'Liberation Sans',sans-serif;font-style:italic;font-size:13.94px" fill="#474747" stroke="#474747" stroke-width="0.3">S</text>
<text transform="translate(46.90,19.26) scale(0.712,1)" style="font-family:'Liberation Sans',sans-serif;font-style:italic;font-size:13.94px" fill="#474747" stroke="#474747" stroke-width="0.3">G</text>
<text transform="translate(54.68,19.56) scale(0.660,1)" style="font-family:'Liberation Sans',sans-serif;font-size:18.29px" fill="#474747" stroke="#474747" stroke-width="0.3">(</text>
<text transform="translate(59.72,20.28) scale(0.758,1)" style="font-family:'Liberation Sans',sans-serif;font-style:italic;font-size:16.27px" fill="#474747" stroke="#474747" stroke-width="0.3">η</text>
<text transform="translate(67.43,19.56) scale(0.763,1)" style="font-family:'Liberation Sans',sans-serif;font-size:18.29px" fill="#474747" stroke="#474747" stroke-width="0.3">)</text>
<text transform="translate(39.82,380.54) scale(0.534,1)" style="font-family:'Liberation Sans',sans-serif;font-size:15.63px" fill="#474747" stroke="#474747" stroke-width="0.3">S</text>
<text transform="translate(46.37,380.54) scale(0.684,1)" style="font-family:'Liberation Sans',sans-serif;font-size:15.63px" fill="#474747" stroke="#474747" stroke-width="0.3">G</text>
<text transform="translate(54.34,379.92) scale(0.624,1)" style="font-family:'Liberation Sans',sans-serif;font-size:17.54px" fill="#474747" stroke="#474747" stroke-width="0.3">(</text>
<text transform="translate(59.52,380.40) scale(0.703,1)" style="font-family:'Liberation Sans',sans-serif;font-style:italic;font-size:16.67px" fill="#474747" stroke="#474747" stroke-width="0.3">η</text>
<text transform="translate(67.04,379.92) scale(0.731,1)" style="font-family:'Liberation Sans',sans-serif;font-size:17.54px" fill="#474747" stroke="#474747" stroke-width="0.3">)</text>
<text transform="translate(442.06,380.40) scale(0.663,1)" style="font-family:'Liberation Sans',sans-serif;font-size:15.80px" fill="#474747" stroke="#474747" stroke-width="0.3">B</text>
<text transform="translate(449.35,380.44) scale(0.884,1)" style="font-family:'Liberation Sans',sans-serif;font-size:15.64px" fill="#474747" stroke="#474747" stroke-width="0.3">e</text>
<text transform="translate(457.17,379.76) scale(0.610,1)" style="font-family:'Liberation Sans',sans-serif;font-size:17.33px" fill="#474747" stroke="#474747" stroke-width="0.3">(</text>
<text transform="translate(462.32,380.13) scale(0.733,1)" style="font-family:'Liberation Sans',sans-serif;font-style:italic;font-size:16.53px" fill="#474747" stroke="#474747" stroke-width="0.3">η</text>
<text transform="translate(469.84,379.76) scale(0.675,1)" style="font-family:'Liberation Sans',sans-serif;font-size:17.33px" fill="#474747" stroke="#474747" stroke-width="0.3">)</text>
<text transform="translate(444.79,19.60) scale(0.693,1)" style="font-family:'Liberation Sans',sans-serif;font-style:italic;font-size:14.78px" fill="#474747" stroke="#474747" stroke-width="0.3">B</text>
<text transform="translate(451.52,19.65) scale(0.936,1)" style="font-family:'Liberation Sans',sans-serif;font-style:italic;font-size:14.55px" fill="#474747" stroke="#474747" stroke-width="0.3">e</text>
<text transform="translate(459.52,19.59) scale(0.642,1)" style="font-family:'Liberation Sans',sans-serif;font-size:17.65px" fill="#474747" stroke="#474747" stroke-width="0.3">(</text>
<text transform="translate(464.92,19.80) scale(0.715,1)" style="font-family:'Liberation Sans',sans-serif;font-style:italic;font-size:16.67px" fill="#474747" stroke="#474747" stroke-width="0.3">η</text>
<text transform="translate(472.54,19.59) scale(0.663,1)" style="font-family:'Liberation Sans',sans-serif;font-size:17.65px" fill="#474747" stroke="#474747" stroke-width="0.3">)</text>
<line x1="234.9" y1="50.1" x2="270.8" y2="50.1" stroke="#f70000" stroke-width="2.5"/>
<line x1="234.9" y1="83.4" x2="276.4" y2="83.4" stroke="#0000f5" stroke-width="2.5" stroke-dasharray="4.6,1.6"/>
<text transform="translate(273.68,55.82) scale(0.715,1)" style="font-family:'Liberation Serif',serif;font-style:italic;font-size:18.21px" fill="#111" stroke="#111" stroke-width="0.4">Cu</text>
<text transform="translate(292.39,56.72) scale(0.889,1)" style="font-family:'Liberation Serif',serif;font-size:15.96px" fill="#1818f2" stroke="#1818f2" stroke-width="0.4">+</text>
<text transform="translate(302.52,56.00) scale(0.737,1)" style="font-family:'Liberation Serif',serif;font-style:italic;font-size:17.84px" fill="#1818f2" stroke="#1818f2" stroke-width="0.4">Al</text>
<text transform="translate(314.65,56.30) scale(0.741,1)" style="font-family:'Liberation Serif',serif;font-size:10.45px" fill="#1818f2" stroke="#1818f2" stroke-width="0.4">2</text>
<text transform="translate(318.95,56.11) scale(0.701,1)" style="font-family:'Liberation Serif',serif;font-style:italic;font-size:18.66px" fill="#1818f2" stroke="#1818f2" stroke-width="0.4">O</text>
<text transform="translate(328.32,59.98) scale(0.698,1)" style="font-family:'Liberation Serif',serif;font-size:12.09px" fill="#111" stroke="#111" stroke-width="0.4">3</text>
<text transform="translate(332.75,59.66) scale(1.066,1)" style="font-family:'Liberation Serif',serif;font-size:12.94px" fill="#111">,</text>
<text transform="translate(281.03,90.03) scale(0.698,1)" style="font-family:'Liberation Serif',serif;font-style:italic;font-size:17.31px" fill="#111" stroke="#111" stroke-width="0.4">Cu</text>
<text transform="translate(296.35,91.02) scale(0.651,1)" style="font-family:'Liberation Serif',serif;font-size:21.18px" fill="#111">,</text>
<line x1="643.9" y1="57.9" x2="675.5" y2="57.9" stroke="#f70000" stroke-width="2.5"/>
<line x1="643.9" y1="86.4" x2="681.8" y2="86.4" stroke="#0000f5" stroke-width="2.5" stroke-dasharray="4.6,1.6"/>
<text transform="translate(678.78,63.32) scale(0.715,1)" style="font-family:'Liberation Serif',serif;font-style:italic;font-size:18.21px" fill="#111" stroke="#111" stroke-width="0.4">Cu</text>
<text transform="translate(697.49,64.22) scale(0.889,1)" style="font-family:'Liberation Serif',serif;font-size:15.96px" fill="#1818f2" stroke="#1818f2" stroke-width="0.4">+</text>
<text transform="translate(707.62,63.50) scale(0.737,1)" style="font-family:'Liberation Serif',serif;font-style:italic;font-size:17.84px" fill="#1818f2" stroke="#1818f2" stroke-width="0.4">Al</text>
<text transform="translate(719.75,63.80) scale(0.741,1)" style="font-family:'Liberation Serif',serif;font-size:10.45px" fill="#1818f2" stroke="#1818f2" stroke-width="0.4">2</text>
<text transform="translate(724.05,63.61) scale(0.701,1)" style="font-family:'Liberation Serif',serif;font-style:italic;font-size:18.66px" fill="#1818f2" stroke="#1818f2" stroke-width="0.4">O</text>
<text transform="translate(733.42,67.48) scale(0.698,1)" style="font-family:'Liberation Serif',serif;font-size:12.09px" fill="#111" stroke="#111" stroke-width="0.4">3</text>
<text transform="translate(737.85,67.16) scale(1.066,1)" style="font-family:'Liberation Serif',serif;font-size:12.94px" fill="#111">,</text>
<text transform="translate(687.13,91.53) scale(0.698,1)" style="font-family:'Liberation Serif',serif;font-style:italic;font-size:17.31px" fill="#111" stroke="#111" stroke-width="0.4">Cu</text>
<text transform="translate(702.45,92.52) scale(0.651,1)" style="font-family:'Liberation Serif',serif;font-size:21.18px" fill="#111">,</text>
<line x1="231.5" y1="411.5" x2="267.5" y2="411.5" stroke="#f70000" stroke-width="2.5"/>
<line x1="231.5" y1="439.0" x2="272.5" y2="439.0" stroke="#0000f5" stroke-width="2.5" stroke-dasharray="4.6,1.6"/>
<text transform="translate(270.18,417.22) scale(0.715,1)" style="font-family:'Liberation Serif',serif;font-style:italic;font-size:18.21px" fill="#111" stroke="#111" stroke-width="0.4">Cu</text>
<text transform="translate(288.89,418.12) scale(0.889,1)" style="font-family:'Liberation Serif',serif;font-size:15.96px" fill="#1818f2" stroke="#1818f2" stroke-width="0.4">+</text>
<text transform="translate(299.02,417.40) scale(0.737,1)" style="font-family:'Liberation Serif',serif;font-style:italic;font-size:17.84px" fill="#1818f2" stroke="#1818f2" stroke-width="0.4">Al</text>
<text transform="translate(311.15,417.70) scale(0.741,1)" style="font-family:'Liberation Serif',serif;font-size:10.45px" fill="#1818f2" stroke="#1818f2" stroke-width="0.4">2</text>
<text transform="translate(315.45,417.51) scale(0.701,1)" style="font-family:'Liberation Serif',serif;font-style:italic;font-size:18.66px" fill="#1818f2" stroke="#1818f2" stroke-width="0.4">O</text>
<text transform="translate(324.82,421.38) scale(0.698,1)" style="font-family:'Liberation Serif',serif;font-size:12.09px" fill="#111" stroke="#111" stroke-width="0.4">3</text>
<text transform="translate(329.25,421.06) scale(1.066,1)" style="font-family:'Liberation Serif',serif;font-size:12.94px" fill="#111">,</text>
<text transform="translate(277.23,446.63) scale(0.698,1)" style="font-family:'Liberation Serif',serif;font-style:italic;font-size:17.31px" fill="#111" stroke="#111" stroke-width="0.4">Cu</text>
<text transform="translate(292.55,447.62) scale(0.651,1)" style="font-family:'Liberation Serif',serif;font-size:21.18px" fill="#111">,</text>
<line x1="642.9" y1="453.4" x2="679.1" y2="453.4" stroke="#f70000" stroke-width="2.5"/>
<line x1="645.2" y1="482.0" x2="686.8" y2="482.0" stroke="#0000f5" stroke-width="2.5" stroke-dasharray="4.6,1.6"/>
<text transform="translate(683.58,460.52) scale(0.715,1)" style="font-family:'Liberation Serif',serif;font-style:italic;font-size:18.21px" fill="#111" stroke="#111" stroke-width="0.4">Cu</text>
<text transform="translate(702.29,461.42) scale(0.889,1)" style="font-family:'Liberation Serif',serif;font-size:15.96px" fill="#1818f2" stroke="#1818f2" stroke-width="0.4">+</text>
<text transform="translate(712.42,460.70) scale(0.737,1)" style="font-family:'Liberation Serif',serif;font-style:italic;font-size:17.84px" fill="#1818f2" stroke="#1818f2" stroke-width="0.4">Al</text>
<text transform="translate(724.55,461.00) scale(0.741,1)" style="font-family:'Liberation Serif',serif;font-size:10.45px" fill="#1818f2" stroke="#1818f2" stroke-width="0.4">2</text>
<text transform="translate(728.85,460.81) scale(0.701,1)" style="font-family:'Liberation Serif',serif;font-style:italic;font-size:18.66px" fill="#1818f2" stroke="#1818f2" stroke-width="0.4">O</text>
<text transform="translate(738.22,464.68) scale(0.698,1)" style="font-family:'Liberation Serif',serif;font-size:12.09px" fill="#111" stroke="#111" stroke-width="0.4">3</text>
<text transform="translate(742.65,464.36) scale(1.066,1)" style="font-family:'Liberation Serif',serif;font-size:12.94px" fill="#111">,</text>
<text transform="translate(690.63,487.73) scale(0.698,1)" style="font-family:'Liberation Serif',serif;font-style:italic;font-size:17.31px" fill="#111" stroke="#111" stroke-width="0.4">Cu</text>
<text transform="translate(705.95,488.72) scale(0.651,1)" style="font-family:'Liberation Serif',serif;font-size:21.18px" fill="#111">,</text>
<text transform="translate(170.79,146.48) scale(0.730,1)" style="font-family:'Liberation Serif',serif;font-size:18.82px" fill="#111" stroke="#111" stroke-width="0.3">Rd = 0.1, 0.3, 0.5.</text>
<text transform="translate(625.89,174.64) scale(0.695,1)" style="font-family:'Liberation Serif',serif;font-size:19.76px" fill="#111" stroke="#111" stroke-width="0.3">Rd = 0.1, 0.3, 0.5.</text>
<text transform="translate(232.08,564.79) scale(0.715,1)" style="font-family:'Liberation Serif',serif;font-size:19.38px" fill="#111" stroke="#111" stroke-width="0.3">Br = 1, 3, 5.</text>
<text transform="translate(578.78,519.65) scale(0.731,1)" style="font-family:'Liberation Serif',serif;font-size:19.01px" fill="#111" stroke="#111" stroke-width="0.3">Br = 1, 3, 5.</text>
<line x1="110.4" y1="194.2" x2="157.36" y2="159.00" stroke="#808080" stroke-width="1.9"/><path d="M166.0 151.8 L154.2 156.0 L157.36 159.00 L158.6 163.6 Z" fill="#000"/>
<line x1="547.6" y1="244.2" x2="605.13" y2="182.44" stroke="#808080" stroke-width="1.9"/><path d="M614.0 172.9 L602.0 179.4 L605.13 182.44 L606.3 187.6 Z" fill="#000"/>
<line x1="180.5" y1="623.8" x2="212.56" y2="580.68" stroke="#808080" stroke-width="1.6"/><path d="M220.3 569.7 L209.0 578.5 L212.56 580.68 L214.4 585.3 Z" fill="#000"/>
<line x1="574.6" y1="524.8" x2="550.77" y2="575.41" stroke="#808080" stroke-width="1.6"/><path d="M544.2 589.0 L548.5 571.0 L550.77 575.41 L554.5 576.8 Z" fill="#000"/>
</svg></body></html>
